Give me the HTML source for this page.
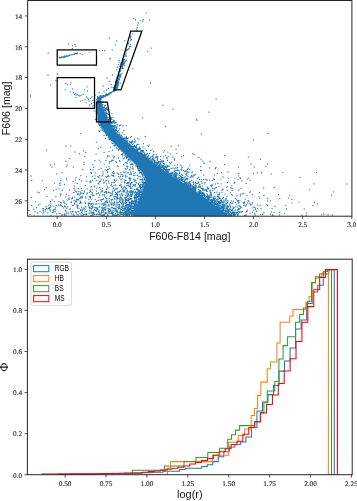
<!DOCTYPE html>
<html><head><meta charset="utf-8"><title>CMD and radial distributions</title>
<style>html,body{margin:0;padding:0;background:#fff;}svg{display:block;}</style></head>
<body><svg width="357" height="501" viewBox="0 0 357 501">
<rect width="357" height="501" fill="#fff"/>
<g id="scatter">
<polygon fill="#1f77b4" points="98.0,99.0 96.9,102.0 97.0,112.0 97.9,120.4 100.8,126.0 104.3,132.3 108.5,137.0 113.5,142.5 120.5,150.0 130.4,159.6 140.5,169.4 143.5,174.0 145.5,179.5 143.0,190.0 139.5,197.4 136.5,206.0 134.0,213.0 133.0,216.2 230.0,216.2 224.5,212.2 217.5,207.3 210.0,201.4 200.5,194.5 192.0,188.6 181.5,181.8 172.0,175.9 167.0,172.4 163.0,169.4 151.8,161.2 149.5,159.6 136.5,150.0 128.5,142.5 121.5,137.0 116.5,132.3 112.6,126.0 108.9,120.4 104.7,112.0 101.4,102.0 100.0,99.0"/>
<path d="M146.3 13.1h0M133.7 18.5h0M135.5 19.7h0M140.9 20.3h0M143.3 19.7h0M149.4 19.9h0M142.7 21.2h0M138.2 23.0h0M137.8 25.2h0M137.3 27.5h0M136.4 29.2h0M136.9 31.0h0M132.8 33.9h0M130.8 36.0h0M130.9 36.5h0M130.6 37.1h0M109.5 38.2h0M130.6 38.1h0M131.3 39.5h0M131.5 39.2h0M116.7 40.9h0M124.8 40.9h0M130.7 40.7h0M128.8 43.0h0M68.4 43.8h0M74.9 44.4h0M128.2 43.9h0M130.4 44.3h0M115.2 44.9h0M72.4 45.8h0M75.7 46.2h0M130.8 46.5h0M129.4 46.8h0M129.4 46.6h0M129.0 48.4h0M151.3 48.1h0M72.4 48.7h0M128.0 49.3h0M128.6 48.9h0M99.4 50.3h0M112.2 49.9h0M126.3 50.2h0M126.4 49.8h0M127.1 50.4h0M127.4 49.6h0M102.4 50.7h0M104.7 50.7h0M147.6 51.3h0M125.9 51.9h0M48.2 53.2h0M75.2 53.2h0M76.8 53.3h0M77.5 52.9h0M90.0 52.6h0M74.2 54.3h0M75.0 53.6h0M75.1 53.9h0M76.1 53.7h0M77.1 53.5h0M80.2 53.6h0M124.3 53.8h0M126.2 53.9h0M69.2 55.4h0M69.4 55.5h0M70.4 54.9h0M71.8 54.9h0M71.9 54.8h0M72.8 54.7h0M82.2 54.6h0M125.2 55.1h0M125.3 55.1h0M64.0 56.4h0M64.6 56.3h0M64.9 56.0h0M66.2 56.1h0M66.8 56.0h0M67.0 55.6h0M67.3 56.0h0M68.6 55.9h0M125.7 56.1h0M126.3 56.2h0M59.3 57.5h0M59.9 57.5h0M60.1 57.4h0M61.9 56.7h0M62.1 57.0h0M62.4 57.3h0M63.3 57.2h0M63.7 56.8h0M64.3 57.3h0M64.4 57.1h0M64.4 57.1h0M65.4 56.7h0M65.9 56.7h0M123.8 56.7h0M123.8 56.9h0M60.7 57.7h0M60.9 57.8h0M61.6 57.6h0M110.0 58.5h0M110.4 58.9h0M123.8 59.5h0M124.4 59.1h0M124.4 59.2h0M118.9 60.4h0M123.6 60.3h0M123.7 59.6h0M124.4 59.9h0M126.3 60.1h0M125.8 60.8h0M119.8 62.0h0M121.7 62.5h0M122.6 62.0h0M123.3 62.3h0M123.5 61.8h0M123.5 61.9h0M123.6 62.2h0M123.8 62.0h0M124.8 61.9h0M125.5 61.6h0M121.3 62.8h0M121.5 63.0h0M121.8 63.2h0M123.1 63.5h0M123.8 62.6h0M120.8 64.0h0M122.3 64.1h0M123.5 63.7h0M123.9 63.9h0M124.3 63.5h0M118.5 64.6h0M122.0 65.3h0M122.9 65.4h0M123.3 64.7h0M124.5 65.3h0M119.4 66.1h0M121.5 66.0h0M122.3 65.8h0M122.5 65.5h0M122.5 66.2h0M122.8 65.7h0M117.6 67.0h0M120.5 66.9h0M120.8 67.2h0M122.2 67.0h0M122.3 67.4h0M120.7 68.0h0M121.0 68.4h0M123.3 68.2h0M119.2 68.8h0M122.5 68.6h0M132.8 68.8h0M116.7 69.7h0M119.6 69.7h0M120.3 69.8h0M120.4 71.2h0M120.6 70.8h0M118.5 71.9h0M122.0 73.1h0M57.1 74.2h0M57.6 74.2h0M118.5 73.9h0M118.8 74.2h0M121.0 74.1h0M48.0 75.0h0M112.5 75.0h0M118.3 75.1h0M118.9 75.2h0M119.4 75.0h0M120.3 74.5h0M120.9 75.3h0M117.8 75.6h0M118.1 75.8h0M119.1 76.4h0M119.8 75.9h0M116.7 77.3h0M117.3 76.7h0M117.8 76.7h0M120.4 76.9h0M120.6 76.8h0M91.2 77.6h0M107.0 78.0h0M117.8 78.4h0M118.7 78.2h0M119.8 77.8h0M117.2 78.7h0M118.5 79.3h0M119.0 79.5h0M119.0 79.0h0M55.9 80.4h0M115.9 80.2h0M117.5 80.5h0M119.1 79.5h0M119.4 79.7h0M109.5 81.3h0M117.5 81.5h0M118.0 80.9h0M118.6 80.8h0M71.1 82.3h0M115.6 82.4h0M115.6 81.7h0M116.3 82.1h0M116.9 82.1h0M117.3 82.5h0M117.3 82.1h0M117.7 82.4h0M117.7 82.5h0M118.1 81.5h0M118.8 82.0h0M66.0 83.4h0M116.7 82.7h0M117.3 82.8h0M117.4 83.5h0M117.4 82.9h0M117.5 83.5h0M117.7 82.5h0M118.5 83.2h0M118.6 83.5h0M120.6 83.1h0M150.5 83.0h0M70.2 84.3h0M111.0 84.5h0M115.4 83.5h0M116.1 84.4h0M116.7 84.4h0M117.1 83.7h0M117.2 83.7h0M117.3 84.5h0M118.1 83.9h0M50.4 84.8h0M67.7 84.8h0M115.1 85.2h0M115.5 85.2h0M117.2 85.4h0M117.4 85.3h0M118.7 85.2h0M103.0 86.0h0M115.1 86.4h0M115.2 86.1h0M115.7 86.4h0M116.0 86.4h0M116.2 85.6h0M116.2 86.5h0M116.9 86.3h0M117.2 85.8h0M117.7 86.1h0M87.0 86.8h0M111.9 87.3h0M114.5 87.1h0M114.8 86.7h0M115.2 87.5h0M115.3 87.3h0M115.4 87.1h0M115.5 86.6h0M115.6 86.7h0M116.3 87.5h0M117.4 87.5h0M108.6 88.5h0M113.4 87.8h0M113.5 88.0h0M114.4 87.9h0M114.7 88.3h0M114.8 87.8h0M114.8 87.7h0M115.0 88.3h0M115.1 88.4h0M115.1 88.0h0M115.4 88.0h0M115.5 87.6h0M115.6 87.8h0M115.7 88.1h0M115.9 87.8h0M116.0 87.6h0M116.1 87.8h0M116.4 88.4h0M117.0 87.9h0M72.7 88.8h0M114.3 89.1h0M115.6 88.6h0M115.7 89.3h0M116.3 88.8h0M116.7 88.8h0M117.0 88.5h0M65.2 89.8h0M84.5 89.8h0M106.5 90.0h0M113.5 90.5h0M113.7 90.1h0M114.1 90.3h0M114.3 90.5h0M114.4 89.9h0M114.7 89.7h0M115.1 90.0h0M115.2 90.2h0M115.3 90.4h0M115.4 90.1h0M116.2 89.7h0M87.4 91.0h0M113.0 91.4h0M113.0 91.2h0M113.2 91.0h0M113.3 91.2h0M113.4 90.7h0M70.2 91.8h0M99.0 92.5h0M104.0 92.0h0M110.6 92.5h0M111.6 92.3h0M111.9 92.0h0M112.2 91.8h0M113.3 91.5h0M113.4 91.6h0M114.2 91.5h0M73.6 92.7h0M109.3 93.4h0M109.5 93.1h0M109.5 93.4h0M109.9 93.1h0M109.9 93.0h0M109.9 93.4h0M110.0 93.4h0M110.5 92.9h0M110.9 93.1h0M110.9 93.0h0M74.4 94.3h0M75.3 93.5h0M83.3 94.4h0M105.9 94.2h0M106.5 93.8h0M107.3 94.3h0M107.9 94.3h0M108.2 94.2h0M108.7 93.7h0M108.8 93.8h0M108.9 94.0h0M109.0 93.9h0M109.1 94.1h0M109.5 94.2h0M76.1 95.2h0M77.3 94.6h0M78.6 95.2h0M81.1 95.2h0M95.1 95.2h0M105.1 95.5h0M105.3 95.1h0M105.5 94.9h0M105.6 95.5h0M105.6 95.5h0M106.0 95.1h0M106.0 94.9h0M106.1 95.2h0M106.4 95.0h0M106.7 94.7h0M106.9 94.9h0M107.5 95.2h0M108.3 94.9h0M30.5 96.0h0M79.8 96.0h0M100.0 95.9h0M101.0 95.5h0M102.1 96.3h0M102.2 96.4h0M102.4 96.0h0M102.7 96.1h0M103.3 95.9h0M103.5 95.6h0M103.7 95.9h0M103.7 95.7h0M104.1 96.3h0M104.2 96.3h0M104.3 96.2h0M104.5 96.2h0M104.7 95.7h0M104.8 95.9h0M105.1 95.7h0M105.3 95.9h0M105.3 96.0h0M105.4 95.5h0M105.5 96.3h0M105.7 95.8h0M105.8 95.8h0M106.0 95.6h0M106.2 95.8h0M107.1 95.6h0M76.1 97.4h0M86.7 96.9h0M92.0 97.0h0M97.5 96.6h0M97.6 97.2h0M98.3 97.1h0M98.4 97.3h0M99.3 97.3h0M100.1 96.9h0M100.4 97.4h0M100.5 97.3h0M100.7 97.1h0M100.8 97.0h0M101.1 97.2h0M101.3 97.3h0M101.8 97.2h0M101.8 96.7h0M101.9 96.6h0M101.9 97.2h0M102.0 96.7h0M102.2 97.1h0M102.3 97.5h0M102.4 97.4h0M102.4 97.1h0M102.4 97.4h0M102.6 97.0h0M102.7 96.8h0M102.7 97.4h0M103.0 96.8h0M103.0 96.6h0M103.1 96.9h0M103.5 96.9h0M103.7 96.7h0M103.7 97.2h0M103.7 96.6h0M104.1 96.5h0M87.9 98.2h0M97.6 97.7h0M98.5 98.5h0M98.5 98.0h0M98.6 97.9h0M98.8 98.3h0M98.9 98.1h0M99.1 97.6h0M99.2 98.3h0M99.3 98.3h0M99.4 98.1h0M99.4 98.5h0M99.8 97.7h0M99.8 97.5h0M99.9 98.2h0M100.0 98.4h0M100.1 98.4h0M100.1 98.5h0M100.2 98.4h0M100.3 97.6h0M100.3 98.3h0M100.3 97.9h0M100.3 97.9h0M100.3 98.4h0M100.4 97.8h0M100.5 97.8h0M100.7 97.8h0M100.7 97.6h0M101.0 97.6h0M101.0 98.0h0M101.2 97.5h0M101.9 97.6h0M102.1 97.5h0M102.1 97.9h0M90.4 98.6h0M97.0 99.3h0M97.5 98.8h0M97.6 98.9h0M98.0 98.5h0M98.2 99.2h0M98.5 98.6h0M98.7 98.6h0M98.8 98.9h0M98.8 99.1h0M98.9 99.4h0M98.9 98.8h0M99.0 99.2h0M99.0 99.4h0M99.0 99.0h0M99.0 98.5h0M99.0 99.4h0M99.1 98.8h0M99.1 99.2h0M99.2 99.2h0M99.2 99.2h0M99.3 98.6h0M99.4 98.7h0M99.4 99.4h0M99.5 98.5h0M99.6 98.6h0M99.7 99.2h0M99.7 99.0h0M99.7 99.1h0M100.1 98.8h0M100.8 98.9h0M100.8 99.2h0M100.8 99.4h0M100.9 99.0h0M101.0 99.3h0M216.1 99.2h0M85.0 99.8h0M88.5 99.5h0M92.9 100.3h0M96.9 100.0h0M97.3 99.9h0M97.3 99.9h0M97.6 99.8h0M97.9 100.3h0M98.6 100.1h0M98.6 100.5h0M99.1 99.6h0M99.1 100.3h0M99.2 100.1h0M99.3 100.4h0M99.4 100.0h0M99.5 99.5h0M99.7 99.7h0M100.1 99.5h0M80.3 101.1h0M82.3 100.6h0M89.0 101.1h0M97.3 101.2h0M97.8 100.8h0M99.9 101.3h0M94.0 102.5h0M101.0 101.6h0M102.5 102.3h0M103.6 102.1h0M86.2 102.8h0M91.5 103.5h0M89.5 105.0h0M102.5 104.5h0M102.6 104.7h0M103.0 104.8h0M105.5 105.2h0M162.9 105.2h0M93.2 106.0h0M104.6 105.6h0M104.3 106.8h0M96.7 107.6h0M103.0 107.6h0M103.5 107.5h0M103.6 107.6h0M104.5 107.6h0M105.8 108.1h0M106.9 107.7h0M104.5 109.4h0M105.1 109.4h0M105.4 109.2h0M105.4 108.5h0M106.7 108.7h0M173.0 109.2h0M104.5 110.3h0M104.9 110.3h0M106.6 109.6h0M107.5 109.6h0M108.0 110.4h0M94.0 110.8h0M96.0 111.0h0M96.6 110.6h0M104.9 110.6h0M105.7 111.0h0M96.7 112.1h0M106.0 112.2h0M106.3 112.2h0M209.0 112.2h0M96.3 112.9h0M96.9 113.1h0M105.9 112.9h0M106.0 112.7h0M106.2 113.3h0M107.0 113.4h0M105.1 113.9h0M108.1 114.1h0M111.8 113.6h0M96.6 114.6h0M96.8 114.9h0M106.6 115.0h0M106.8 115.0h0M108.7 114.6h0M106.7 115.9h0M109.4 116.0h0M96.6 116.8h0M107.2 117.5h0M107.6 117.3h0M109.7 116.5h0M112.9 117.3h0M97.5 117.8h0M107.4 117.9h0M107.5 117.7h0M109.1 117.6h0M110.5 118.2h0M111.1 117.5h0M142.7 117.8h0M95.3 119.3h0M96.1 119.2h0M109.4 119.4h0M109.9 118.9h0M111.5 118.8h0M112.0 119.4h0M196.7 119.3h0M97.0 119.9h0M97.4 119.9h0M108.2 119.8h0M108.8 119.5h0M109.4 120.1h0M109.6 120.2h0M197.1 120.3h0M109.2 120.7h0M109.7 120.9h0M110.1 120.7h0M110.5 121.0h0M113.3 121.3h0M113.6 120.5h0M114.3 121.0h0M114.6 120.6h0M97.9 122.1h0M110.7 122.1h0M111.9 122.2h0M112.1 121.8h0M112.4 121.6h0M114.9 122.3h0M116.2 122.3h0M98.4 123.0h0M110.1 122.8h0M111.6 123.2h0M112.2 123.2h0M112.5 122.7h0M113.3 122.6h0M114.0 123.0h0M115.2 123.1h0M98.9 124.5h0M99.4 124.1h0M117.2 124.4h0M99.3 125.0h0M100.8 125.4h0M100.8 125.2h0M115.0 125.4h0M120.9 125.0h0M99.7 125.7h0M112.5 125.5h0M112.9 125.8h0M113.2 126.5h0M113.5 126.4h0M113.7 125.7h0M114.3 125.7h0M115.3 125.9h0M117.9 126.1h0M119.7 125.5h0M122.8 126.0h0M126.2 125.6h0M165.4 126.4h0M100.8 127.2h0M114.9 127.2h0M115.0 127.5h0M116.2 126.9h0M116.5 127.1h0M101.5 128.1h0M114.4 127.8h0M114.9 127.9h0M116.6 127.8h0M116.8 128.3h0M114.0 128.8h0M115.8 129.3h0M119.7 128.9h0M101.1 130.0h0M102.5 130.2h0M115.1 130.4h0M115.1 130.4h0M115.3 129.6h0M115.4 130.5h0M116.1 129.9h0M116.3 130.4h0M116.4 129.9h0M123.9 130.5h0M98.9 130.6h0M99.5 131.5h0M115.1 130.7h0M117.6 131.5h0M118.2 130.5h0M103.2 131.6h0M117.0 132.0h0M118.1 132.0h0M119.4 133.0h0M122.1 132.8h0M267.8 133.4h0M80.6 133.7h0M124.1 134.3h0M201.3 133.9h0M105.9 134.6h0M106.5 135.1h0M106.6 135.4h0M119.1 135.0h0M119.8 134.7h0M120.9 135.1h0M121.6 135.3h0M104.0 135.7h0M121.5 135.7h0M122.1 136.4h0M145.2 136.5h0M122.0 137.1h0M126.1 137.0h0M126.6 137.0h0M130.4 137.2h0M131.6 136.6h0M108.1 137.9h0M108.8 137.9h0M123.2 138.2h0M123.5 138.2h0M124.6 138.1h0M124.8 138.4h0M125.3 138.3h0M125.6 138.0h0M126.1 138.1h0M126.6 138.1h0M127.9 138.3h0M128.2 137.8h0M137.7 138.1h0M105.5 138.5h0M109.5 138.9h0M109.7 138.7h0M110.5 139.4h0M124.0 138.7h0M127.0 138.7h0M134.7 139.2h0M139.0 139.2h0M109.1 139.8h0M111.1 140.0h0M125.3 139.8h0M125.9 140.0h0M126.2 139.8h0M126.4 140.1h0M127.9 140.2h0M253.4 139.9h0M111.7 140.6h0M112.3 141.1h0M132.2 141.2h0M132.6 140.8h0M134.1 141.4h0M135.7 141.1h0M96.4 142.2h0M127.2 141.5h0M129.7 141.6h0M129.9 142.4h0M131.0 141.9h0M131.1 142.4h0M132.2 142.0h0M134.9 142.5h0M111.8 142.8h0M112.6 143.2h0M131.4 143.2h0M131.4 143.5h0M133.5 143.1h0M113.2 143.7h0M114.9 144.2h0M137.6 144.4h0M139.0 144.3h0M143.5 143.7h0M113.9 145.3h0M132.7 144.6h0M134.6 145.4h0M136.4 145.2h0M136.5 145.2h0M147.9 145.3h0M149.5 145.1h0M178.5 145.3h0M66.0 146.0h0M70.7 146.1h0M114.1 145.7h0M114.5 145.9h0M114.8 145.9h0M115.5 145.6h0M136.4 146.0h0M171.1 146.2h0M100.7 147.0h0M110.5 147.2h0M116.7 147.4h0M133.0 147.0h0M133.1 146.5h0M133.6 146.9h0M134.0 146.7h0M134.7 146.7h0M135.4 147.4h0M135.7 146.7h0M136.0 146.6h0M136.1 147.3h0M136.7 147.4h0M139.5 147.2h0M143.0 147.0h0M148.6 146.6h0M117.1 148.5h0M135.8 148.1h0M138.7 148.4h0M139.6 147.9h0M98.4 148.6h0M119.2 149.0h0M119.8 149.0h0M136.3 149.4h0M136.6 149.1h0M137.0 148.9h0M137.1 148.6h0M137.6 149.2h0M137.9 149.3h0M138.5 148.9h0M138.5 149.0h0M139.8 148.9h0M140.1 149.3h0M140.3 148.8h0M145.1 148.8h0M176.1 149.2h0M46.5 150.1h0M112.5 150.2h0M118.3 150.0h0M118.7 149.5h0M118.7 149.9h0M136.8 149.9h0M137.0 150.4h0M137.1 150.0h0M137.6 150.4h0M137.8 149.8h0M138.2 149.7h0M138.8 149.8h0M140.8 150.3h0M141.4 150.4h0M152.0 149.9h0M83.6 150.8h0M121.9 151.2h0M137.4 150.5h0M137.5 150.6h0M142.2 150.5h0M142.7 151.4h0M142.8 150.9h0M143.6 150.6h0M146.7 150.5h0M150.6 150.6h0M164.4 150.6h0M75.0 152.0h0M109.0 151.6h0M140.3 152.0h0M140.7 151.7h0M140.7 151.8h0M140.7 152.4h0M140.8 152.2h0M141.4 151.5h0M142.9 152.0h0M143.3 151.9h0M153.7 151.7h0M163.5 152.1h0M167.9 152.2h0M85.7 152.5h0M104.1 152.5h0M123.1 153.1h0M140.1 153.0h0M140.6 152.6h0M140.7 152.7h0M140.7 152.6h0M141.2 153.3h0M141.5 153.1h0M144.2 152.8h0M147.2 153.3h0M149.7 153.4h0M79.5 153.7h0M96.1 154.2h0M122.6 153.8h0M141.8 153.6h0M142.4 153.8h0M144.8 153.6h0M146.8 154.2h0M147.0 153.9h0M147.3 153.6h0M170.6 153.8h0M176.8 153.6h0M192.9 153.6h0M194.0 154.3h0M121.4 154.5h0M122.9 154.6h0M124.2 155.1h0M143.1 154.9h0M144.1 155.3h0M144.2 154.5h0M144.3 154.7h0M144.4 154.6h0M144.5 155.2h0M144.5 154.7h0M145.7 154.9h0M145.7 154.9h0M146.2 155.2h0M146.3 154.7h0M148.8 155.4h0M153.6 154.6h0M156.2 154.5h0M107.5 156.0h0M108.0 155.8h0M109.2 156.1h0M113.1 155.8h0M122.5 155.8h0M125.6 156.0h0M126.2 156.5h0M144.1 155.8h0M145.2 156.1h0M148.3 156.3h0M151.9 156.3h0M152.9 155.6h0M156.1 156.4h0M165.5 155.6h0M183.5 155.7h0M224.6 155.7h0M84.9 156.6h0M113.6 157.5h0M114.5 156.9h0M127.0 157.3h0M127.5 157.5h0M145.1 157.0h0M145.1 156.7h0M145.4 157.0h0M146.0 156.9h0M147.3 156.5h0M147.7 157.1h0M147.7 157.3h0M150.4 157.1h0M152.4 156.8h0M153.6 157.2h0M157.5 157.0h0M157.8 156.7h0M160.6 156.6h0M163.4 156.9h0M168.3 156.6h0M172.7 157.2h0M181.5 156.7h0M198.8 157.4h0M248.4 157.2h0M107.1 157.8h0M118.4 158.0h0M124.4 158.1h0M126.3 157.6h0M126.3 158.0h0M147.8 157.7h0M149.1 158.3h0M150.2 158.3h0M150.7 157.6h0M155.0 158.2h0M156.0 157.6h0M157.2 157.8h0M166.6 158.0h0M167.4 158.1h0M69.5 158.6h0M123.2 158.8h0M128.4 159.5h0M128.6 159.0h0M128.7 158.9h0M148.1 158.7h0M148.4 159.0h0M150.1 159.0h0M150.4 159.2h0M152.1 159.3h0M152.1 159.4h0M152.3 158.7h0M152.8 158.5h0M153.6 159.5h0M157.5 158.5h0M157.5 159.1h0M160.7 159.4h0M174.2 158.8h0M174.5 159.2h0M201.1 159.2h0M260.5 159.2h0M99.2 160.2h0M105.9 160.5h0M112.0 160.2h0M113.0 160.2h0M129.4 159.5h0M129.9 159.8h0M151.5 160.5h0M152.2 159.8h0M153.5 159.8h0M154.6 160.4h0M157.6 160.1h0M163.1 160.5h0M167.6 160.4h0M174.5 160.0h0M65.9 161.2h0M94.9 160.7h0M94.9 160.8h0M111.3 161.2h0M112.3 160.6h0M119.6 160.7h0M127.4 161.1h0M128.7 160.6h0M130.8 161.2h0M153.5 160.9h0M153.9 161.0h0M154.8 161.2h0M155.1 160.7h0M158.7 161.3h0M160.7 161.3h0M161.1 160.8h0M162.8 160.6h0M163.6 161.3h0M202.9 161.2h0M83.9 162.5h0M100.7 161.8h0M109.9 161.5h0M115.7 161.8h0M116.4 162.4h0M120.0 161.7h0M152.0 161.8h0M152.1 161.5h0M152.5 161.9h0M154.4 161.8h0M156.1 162.2h0M156.7 162.1h0M158.4 162.5h0M159.5 162.0h0M160.5 162.1h0M161.6 161.8h0M162.7 162.0h0M169.9 162.4h0M171.6 162.2h0M210.1 161.5h0M109.6 162.9h0M125.4 162.6h0M126.5 162.8h0M129.9 162.8h0M154.6 162.6h0M155.3 163.2h0M155.5 163.1h0M155.9 163.0h0M156.5 163.4h0M157.5 163.0h0M157.8 163.1h0M158.1 163.0h0M160.5 163.3h0M163.4 163.5h0M203.9 163.2h0M204.5 163.4h0M54.7 164.2h0M84.2 164.4h0M92.8 164.3h0M104.2 164.2h0M127.1 163.5h0M131.5 164.1h0M132.5 163.9h0M133.2 164.1h0M156.5 163.9h0M157.1 163.9h0M157.7 163.8h0M159.1 164.2h0M159.3 164.3h0M159.3 164.4h0M160.1 163.6h0M164.5 164.0h0M170.4 163.6h0M251.1 164.0h0M267.5 164.1h0M50.4 165.0h0M67.2 165.0h0M123.4 164.7h0M124.2 165.1h0M130.7 164.7h0M132.3 164.6h0M157.2 164.8h0M159.2 164.6h0M159.7 164.6h0M159.9 165.4h0M160.1 164.7h0M161.3 165.0h0M163.2 165.4h0M163.5 165.3h0M163.6 165.4h0M174.8 165.2h0M177.6 164.8h0M189.6 165.1h0M224.6 164.7h0M117.3 166.0h0M127.8 166.1h0M135.8 166.0h0M137.9 166.4h0M158.6 165.7h0M158.6 165.6h0M159.0 165.6h0M159.3 166.2h0M159.4 166.0h0M160.1 166.3h0M161.9 166.3h0M162.5 165.9h0M162.5 166.4h0M162.8 165.9h0M163.9 166.0h0M165.5 166.2h0M167.0 165.7h0M168.0 165.8h0M168.1 166.2h0M169.1 166.0h0M180.8 165.5h0M52.0 167.0h0M66.2 166.8h0M73.2 167.0h0M93.7 167.3h0M93.8 167.0h0M106.5 167.1h0M109.1 166.7h0M118.5 166.6h0M126.7 166.5h0M127.2 166.7h0M130.3 167.2h0M132.8 166.9h0M136.3 166.7h0M137.4 167.0h0M137.7 167.4h0M159.5 166.8h0M159.7 166.8h0M160.7 166.8h0M161.3 167.4h0M162.0 167.3h0M162.1 167.0h0M162.2 166.5h0M163.0 167.2h0M163.1 167.4h0M163.3 167.4h0M163.8 167.3h0M164.2 166.8h0M165.1 167.1h0M165.9 167.5h0M166.9 166.7h0M166.9 167.2h0M167.6 166.8h0M167.6 166.8h0M177.7 167.4h0M181.7 167.1h0M182.2 167.2h0M200.7 166.7h0M216.0 167.4h0M238.5 167.1h0M254.2 166.9h0M266.1 166.5h0M101.3 168.4h0M125.2 168.5h0M127.4 168.2h0M138.7 168.4h0M139.3 168.4h0M160.4 167.6h0M161.6 167.6h0M163.0 168.2h0M163.2 167.7h0M163.4 167.7h0M164.3 168.3h0M173.1 168.2h0M175.4 167.8h0M176.9 168.2h0M188.1 168.2h0M209.7 167.9h0M215.3 168.5h0M90.5 169.4h0M107.4 169.4h0M108.6 169.2h0M109.8 168.8h0M129.9 169.4h0M132.2 168.5h0M133.3 168.9h0M137.9 168.7h0M140.5 169.2h0M163.3 169.2h0M164.1 169.3h0M164.5 168.9h0M165.8 169.4h0M166.2 169.0h0M168.6 169.3h0M171.2 168.5h0M174.7 168.8h0M181.4 169.2h0M181.7 169.0h0M188.0 169.0h0M215.6 168.8h0M82.8 169.5h0M93.1 170.0h0M98.9 169.6h0M105.3 169.9h0M106.7 170.3h0M126.1 169.5h0M130.0 170.2h0M138.1 169.5h0M139.0 170.0h0M140.1 170.2h0M140.3 169.8h0M140.6 169.6h0M140.9 169.5h0M165.2 169.8h0M165.4 169.8h0M165.8 169.9h0M166.3 170.2h0M167.2 169.7h0M168.3 169.7h0M168.6 170.2h0M169.5 169.9h0M177.1 170.4h0M177.8 170.1h0M178.8 170.3h0M181.4 170.1h0M183.3 170.4h0M186.2 170.2h0M187.7 169.7h0M189.9 169.7h0M200.6 170.3h0M201.4 170.4h0M107.6 171.3h0M113.4 171.4h0M138.6 170.7h0M139.2 171.0h0M141.0 171.5h0M165.4 170.6h0M166.4 171.4h0M166.6 170.8h0M167.0 171.4h0M167.2 170.5h0M168.1 171.3h0M174.3 171.4h0M175.2 170.6h0M175.4 170.8h0M175.8 170.7h0M177.7 170.5h0M179.2 170.9h0M184.4 171.2h0M185.7 171.4h0M185.8 171.4h0M91.4 172.4h0M103.0 172.0h0M107.4 172.4h0M123.6 172.2h0M125.1 172.2h0M127.8 172.4h0M130.7 172.2h0M130.9 172.2h0M133.1 171.5h0M140.3 172.5h0M141.2 172.2h0M167.1 171.9h0M167.2 172.3h0M167.4 172.3h0M168.1 172.4h0M168.3 172.0h0M168.7 172.1h0M176.1 172.3h0M187.3 172.0h0M188.7 172.2h0M192.0 172.4h0M192.2 172.0h0M228.0 172.0h0M261.5 172.5h0M282.8 172.3h0M316.4 172.4h0M61.9 172.7h0M90.8 172.9h0M91.3 172.7h0M95.1 172.7h0M112.5 172.7h0M114.4 172.9h0M117.2 173.0h0M120.8 172.7h0M128.9 173.1h0M135.4 172.6h0M139.5 173.0h0M141.5 172.8h0M141.7 172.7h0M168.0 172.8h0M168.2 172.7h0M168.5 172.6h0M171.0 172.6h0M171.6 173.2h0M172.5 172.6h0M172.5 172.6h0M173.8 173.2h0M175.4 172.6h0M175.9 173.3h0M176.0 173.3h0M176.3 173.5h0M177.3 173.4h0M179.4 173.4h0M179.7 172.7h0M187.0 172.9h0M217.3 173.3h0M221.6 172.7h0M238.6 173.4h0M257.2 172.9h0M56.8 173.9h0M91.4 173.5h0M103.0 174.0h0M113.5 173.6h0M118.2 174.2h0M118.9 174.0h0M122.1 174.4h0M126.0 174.1h0M131.1 173.6h0M134.1 173.7h0M141.5 173.9h0M142.5 173.8h0M142.9 174.0h0M142.9 174.4h0M143.0 173.8h0M143.2 174.2h0M169.0 173.9h0M169.4 173.9h0M169.4 173.6h0M170.2 173.6h0M170.7 174.0h0M170.8 173.9h0M171.4 173.6h0M171.6 173.7h0M172.3 173.8h0M174.4 173.5h0M174.9 174.2h0M175.5 174.2h0M176.6 174.0h0M185.9 174.2h0M186.3 174.2h0M186.4 174.2h0M195.3 174.4h0M253.4 173.6h0M271.2 173.9h0M108.2 175.4h0M111.7 175.0h0M113.5 175.5h0M120.9 174.8h0M130.0 174.7h0M131.3 174.5h0M133.6 175.4h0M135.0 175.3h0M137.2 175.4h0M137.6 175.1h0M142.8 175.3h0M170.3 174.8h0M171.0 175.0h0M171.1 175.5h0M171.7 175.0h0M173.1 175.3h0M173.4 174.8h0M174.2 175.2h0M175.0 175.4h0M176.1 174.6h0M176.2 175.3h0M176.4 175.3h0M177.7 175.1h0M179.1 174.8h0M181.9 174.7h0M182.7 175.4h0M191.6 175.3h0M191.9 175.1h0M193.6 175.1h0M194.6 175.3h0M203.8 175.0h0M214.6 174.8h0M31.0 176.0h0M80.9 175.6h0M92.6 176.3h0M95.0 175.8h0M98.0 176.3h0M99.7 175.5h0M101.9 176.1h0M102.5 175.6h0M105.9 176.3h0M107.7 176.4h0M109.0 176.4h0M112.8 175.7h0M113.8 176.2h0M123.2 176.0h0M125.2 175.7h0M127.0 176.3h0M142.6 176.0h0M142.8 175.6h0M143.1 175.7h0M171.6 175.7h0M173.9 176.4h0M174.0 176.3h0M174.2 175.9h0M174.6 176.4h0M175.6 176.4h0M179.8 175.6h0M180.8 175.9h0M187.0 175.5h0M188.0 176.4h0M191.2 176.4h0M192.7 176.3h0M238.5 175.8h0M86.6 176.8h0M97.9 176.9h0M98.6 177.0h0M106.6 177.4h0M118.5 176.6h0M120.4 176.6h0M122.7 176.6h0M125.6 177.1h0M125.7 177.2h0M129.7 177.3h0M138.9 176.7h0M140.3 176.6h0M143.7 177.5h0M173.7 176.7h0M174.2 176.9h0M174.3 176.8h0M175.4 177.3h0M176.6 176.8h0M176.8 177.1h0M179.0 177.2h0M180.6 176.9h0M181.9 177.0h0M182.2 177.3h0M184.3 177.2h0M185.6 176.9h0M191.1 177.1h0M193.1 177.1h0M198.7 177.2h0M223.1 177.0h0M240.0 177.5h0M66.7 178.1h0M75.9 177.8h0M94.8 178.4h0M100.1 178.1h0M119.7 177.9h0M129.2 178.3h0M130.4 178.4h0M144.4 178.1h0M176.3 178.0h0M176.3 178.1h0M176.4 177.8h0M176.6 177.8h0M176.6 178.3h0M177.1 178.5h0M177.4 178.4h0M177.7 178.5h0M177.7 178.3h0M179.4 177.8h0M180.8 178.4h0M181.4 177.9h0M181.5 177.5h0M182.8 177.6h0M186.4 178.5h0M190.4 177.7h0M228.0 178.1h0M234.9 178.2h0M240.4 178.5h0M248.9 177.9h0M300.0 177.5h0M114.2 179.3h0M122.1 178.7h0M129.1 178.6h0M130.0 179.2h0M133.4 179.2h0M137.8 178.5h0M141.6 179.4h0M142.5 179.0h0M144.7 179.0h0M176.1 178.7h0M176.7 179.0h0M178.6 178.8h0M178.6 179.0h0M179.4 179.4h0M181.3 179.0h0M182.0 179.3h0M182.7 179.4h0M182.9 178.8h0M183.5 178.8h0M185.2 179.0h0M186.3 179.3h0M186.8 178.6h0M187.9 178.6h0M197.4 178.8h0M197.6 178.6h0M199.6 179.3h0M205.3 179.4h0M206.9 179.3h0M213.5 178.9h0M220.9 179.1h0M247.2 179.2h0M31.7 180.4h0M60.7 180.3h0M66.8 179.8h0M75.4 180.1h0M79.5 179.5h0M92.5 180.2h0M101.1 179.8h0M103.6 179.9h0M106.7 180.3h0M114.2 179.8h0M114.6 180.3h0M116.6 180.0h0M121.0 179.7h0M124.1 179.9h0M125.5 180.4h0M125.9 180.3h0M130.0 179.9h0M134.8 180.0h0M135.0 180.2h0M135.8 180.3h0M140.1 179.7h0M140.7 179.7h0M142.2 180.1h0M144.2 179.6h0M144.9 180.2h0M178.9 179.7h0M179.0 180.4h0M179.7 179.8h0M179.9 180.0h0M180.2 180.0h0M181.2 180.3h0M181.2 179.7h0M181.5 180.1h0M181.7 179.7h0M181.7 180.0h0M184.8 180.0h0M185.7 179.6h0M187.7 179.7h0M191.6 180.3h0M201.8 179.7h0M203.5 179.6h0M207.0 180.5h0M209.7 180.1h0M214.4 179.5h0M237.9 179.6h0M42.3 180.8h0M73.1 181.3h0M81.5 180.9h0M86.7 181.4h0M90.1 181.0h0M96.8 180.5h0M100.2 181.2h0M105.9 180.9h0M108.6 181.2h0M115.5 181.1h0M130.1 180.7h0M134.4 180.9h0M142.6 180.8h0M143.2 181.0h0M181.9 180.7h0M182.2 181.1h0M182.4 180.8h0M182.6 181.1h0M182.9 180.9h0M183.8 181.4h0M184.9 180.9h0M201.3 181.3h0M212.6 180.6h0M241.9 181.0h0M250.0 180.6h0M90.2 182.5h0M91.0 182.0h0M99.4 181.9h0M100.3 181.7h0M104.5 182.2h0M113.2 182.2h0M121.6 182.1h0M124.7 182.0h0M127.6 182.4h0M129.1 182.1h0M131.4 182.4h0M132.2 182.4h0M135.8 182.2h0M142.1 182.4h0M142.9 182.3h0M144.3 182.3h0M144.5 182.5h0M184.4 182.1h0M184.9 181.8h0M186.2 182.3h0M186.6 182.4h0M186.9 182.1h0M189.3 181.5h0M189.4 182.4h0M190.1 181.7h0M193.1 182.0h0M193.4 181.9h0M195.4 182.2h0M198.1 181.8h0M205.0 182.4h0M234.6 182.2h0M54.4 183.1h0M60.2 183.0h0M98.1 183.5h0M103.3 182.9h0M109.0 183.0h0M111.8 182.9h0M114.5 182.6h0M124.5 182.8h0M128.2 182.6h0M129.1 182.8h0M130.9 183.4h0M136.4 182.7h0M138.2 183.4h0M140.0 182.7h0M143.6 183.5h0M143.9 182.7h0M184.1 183.3h0M184.2 182.7h0M184.6 183.4h0M185.0 183.4h0M185.4 183.4h0M185.5 183.5h0M185.7 183.0h0M185.9 182.9h0M185.9 182.9h0M186.2 183.4h0M186.8 182.8h0M188.3 182.6h0M189.6 183.4h0M193.5 183.0h0M195.4 183.1h0M196.5 183.3h0M197.9 183.4h0M198.8 182.6h0M201.9 183.2h0M202.2 182.9h0M218.0 183.4h0M227.5 182.5h0M234.1 183.2h0M246.1 183.4h0M59.7 183.8h0M64.5 184.5h0M77.2 183.5h0M98.9 183.9h0M106.4 183.9h0M126.8 183.5h0M127.9 183.7h0M130.3 184.4h0M130.5 183.6h0M131.0 184.1h0M138.4 184.1h0M140.7 184.3h0M142.4 184.2h0M143.3 184.4h0M144.6 183.9h0M144.9 183.9h0M184.4 183.8h0M185.5 184.0h0M186.0 184.4h0M187.2 183.6h0M187.3 183.9h0M187.4 183.9h0M188.0 183.7h0M188.1 184.2h0M188.3 184.4h0M188.3 184.3h0M188.3 184.0h0M188.6 184.2h0M190.4 183.8h0M191.0 184.5h0M193.6 184.3h0M199.9 184.4h0M204.8 183.9h0M215.3 184.0h0M221.2 183.8h0M313.7 183.9h0M346.9 184.0h0M85.2 185.4h0M111.5 184.5h0M114.0 185.4h0M115.5 185.2h0M115.7 185.2h0M119.6 185.4h0M120.6 184.8h0M121.5 184.8h0M128.3 185.2h0M130.3 185.3h0M133.6 184.6h0M134.3 184.9h0M135.1 185.1h0M135.5 184.5h0M139.0 184.6h0M139.3 184.9h0M139.5 185.1h0M140.4 185.3h0M140.5 185.1h0M142.1 184.7h0M142.8 184.5h0M143.4 184.7h0M186.8 184.6h0M188.4 185.0h0M188.9 184.8h0M188.9 185.1h0M189.1 185.3h0M189.6 185.3h0M189.7 185.3h0M190.0 184.7h0M190.4 184.6h0M195.2 185.5h0M195.8 184.9h0M199.1 184.8h0M211.5 185.1h0M211.9 184.9h0M212.2 185.0h0M60.1 185.5h0M74.3 186.0h0M91.3 186.4h0M94.9 186.1h0M107.4 186.1h0M111.0 185.6h0M112.2 186.5h0M124.2 186.1h0M126.8 185.6h0M126.9 185.8h0M128.3 185.6h0M129.3 186.5h0M133.6 185.6h0M135.3 186.3h0M139.7 186.3h0M139.8 186.1h0M142.3 185.5h0M142.6 186.4h0M143.8 185.6h0M187.1 185.7h0M187.5 185.9h0M188.9 185.8h0M189.2 185.8h0M189.5 186.2h0M190.2 185.8h0M190.2 186.0h0M191.1 186.0h0M191.2 186.2h0M192.1 185.7h0M193.1 186.4h0M193.8 186.1h0M196.5 186.1h0M198.9 186.1h0M200.2 186.1h0M202.2 186.0h0M210.7 185.7h0M211.8 185.6h0M231.8 185.8h0M90.9 187.0h0M94.2 186.8h0M99.7 187.4h0M121.2 186.6h0M121.5 186.8h0M121.6 187.5h0M124.1 187.2h0M130.3 186.6h0M130.9 187.3h0M132.6 186.7h0M139.6 187.1h0M140.1 187.2h0M140.5 186.7h0M141.9 187.5h0M142.4 187.1h0M142.6 187.0h0M142.6 187.3h0M142.8 186.6h0M143.3 187.2h0M144.0 186.9h0M189.1 186.8h0M190.2 186.5h0M190.6 187.2h0M192.7 186.8h0M192.8 186.7h0M193.9 187.4h0M194.1 187.2h0M194.2 187.1h0M194.5 187.5h0M195.2 186.6h0M196.8 187.2h0M198.5 187.2h0M198.9 187.0h0M199.8 186.8h0M200.6 187.4h0M207.1 186.8h0M211.8 186.8h0M219.0 186.6h0M227.4 186.7h0M274.3 187.4h0M46.3 187.7h0M74.2 188.4h0M81.3 188.4h0M96.7 188.1h0M107.6 187.8h0M109.2 187.8h0M113.5 188.5h0M113.9 187.8h0M117.6 188.2h0M123.1 188.2h0M125.4 187.6h0M126.6 188.2h0M130.8 188.5h0M132.0 188.3h0M138.0 187.8h0M140.3 188.4h0M140.6 188.0h0M190.1 187.6h0M191.6 188.0h0M192.2 188.1h0M193.1 187.7h0M193.7 188.4h0M194.1 188.2h0M194.6 187.9h0M194.8 187.9h0M195.3 187.6h0M195.9 188.4h0M196.0 188.4h0M201.1 187.9h0M201.5 188.4h0M202.7 188.5h0M207.9 187.9h0M212.9 188.5h0M215.2 188.0h0M216.4 187.5h0M226.2 187.6h0M231.0 188.0h0M232.2 188.3h0M241.0 188.4h0M263.6 187.9h0M58.9 188.8h0M78.3 188.7h0M87.3 189.0h0M100.4 188.9h0M102.5 188.6h0M106.4 189.5h0M106.6 188.9h0M115.2 189.1h0M116.4 188.9h0M116.5 188.7h0M116.8 189.0h0M122.3 189.3h0M125.3 188.9h0M126.2 189.2h0M134.4 189.3h0M136.3 189.2h0M136.9 188.5h0M140.1 189.3h0M140.5 188.9h0M141.7 189.2h0M142.4 189.1h0M142.7 189.1h0M142.7 189.2h0M142.9 188.9h0M192.4 188.5h0M193.0 189.2h0M193.5 189.2h0M194.4 189.1h0M194.7 188.5h0M194.7 189.2h0M195.2 188.7h0M198.4 189.3h0M203.7 189.0h0M207.3 188.7h0M208.0 189.0h0M209.0 188.7h0M214.3 189.1h0M223.1 189.2h0M44.5 189.7h0M56.1 189.6h0M62.4 190.2h0M69.5 190.0h0M74.9 190.2h0M82.0 190.3h0M90.2 190.0h0M92.2 189.7h0M115.0 189.5h0M120.3 190.3h0M123.5 190.0h0M127.2 190.4h0M135.9 189.8h0M137.2 189.5h0M137.2 190.0h0M137.2 190.1h0M138.3 190.0h0M138.4 189.8h0M194.3 189.7h0M194.6 190.0h0M195.6 189.5h0M195.7 189.9h0M199.7 190.1h0M200.3 190.4h0M202.6 189.5h0M202.7 190.0h0M204.5 190.1h0M205.7 190.1h0M205.8 189.5h0M206.3 189.8h0M212.9 190.5h0M222.4 189.8h0M227.2 190.3h0M232.1 190.5h0M238.5 190.2h0M238.9 190.1h0M309.7 189.8h0M53.5 190.6h0M84.8 190.9h0M90.5 191.4h0M90.7 191.4h0M96.5 191.1h0M101.2 191.2h0M102.1 190.7h0M102.3 190.9h0M102.7 191.0h0M105.3 191.3h0M112.9 191.0h0M114.5 190.7h0M118.1 191.5h0M119.5 191.4h0M120.1 191.4h0M123.0 191.1h0M124.2 190.7h0M124.6 191.5h0M130.1 190.8h0M130.9 191.4h0M131.4 190.9h0M131.7 190.6h0M133.0 191.3h0M133.8 191.0h0M138.4 190.7h0M139.1 190.8h0M139.3 191.5h0M140.0 190.6h0M140.7 191.0h0M141.3 190.9h0M142.4 190.9h0M195.7 190.8h0M198.1 191.3h0M199.7 191.3h0M200.6 191.3h0M203.0 190.6h0M206.3 190.6h0M206.4 190.6h0M207.2 191.2h0M209.8 190.8h0M210.7 190.7h0M221.9 190.6h0M250.2 191.3h0M37.8 192.1h0M75.9 191.5h0M76.6 191.9h0M78.8 191.5h0M80.6 192.1h0M84.1 192.1h0M89.7 192.4h0M92.0 192.3h0M106.3 191.7h0M108.0 192.1h0M108.4 192.1h0M110.2 192.4h0M112.5 192.0h0M115.5 192.5h0M119.1 192.2h0M123.4 191.9h0M123.7 191.8h0M126.0 192.3h0M127.4 191.7h0M127.9 191.7h0M129.4 192.0h0M130.2 191.9h0M132.3 192.1h0M132.4 191.6h0M132.6 192.0h0M135.5 191.7h0M135.5 191.8h0M137.1 192.5h0M137.7 192.2h0M138.5 191.7h0M139.5 192.2h0M140.0 191.9h0M140.5 192.0h0M141.8 191.9h0M198.5 192.5h0M199.3 191.9h0M199.6 192.3h0M199.7 192.0h0M200.1 192.4h0M200.2 191.8h0M201.9 192.1h0M206.4 191.5h0M210.2 192.0h0M214.7 192.5h0M216.9 192.1h0M221.9 192.3h0M249.8 192.4h0M333.7 191.8h0M39.2 192.7h0M73.8 192.5h0M78.1 193.5h0M81.2 193.2h0M87.6 192.9h0M92.5 193.1h0M98.5 193.0h0M100.9 192.8h0M104.3 192.7h0M104.9 192.7h0M106.3 192.7h0M106.6 193.2h0M108.9 192.6h0M110.7 193.1h0M116.5 193.5h0M117.3 192.7h0M127.9 193.2h0M130.4 192.8h0M131.1 192.8h0M131.3 192.6h0M132.4 193.3h0M134.0 192.8h0M134.0 192.6h0M134.8 193.0h0M136.2 192.6h0M136.3 193.2h0M136.6 192.6h0M139.1 192.6h0M139.5 192.7h0M139.9 192.8h0M141.4 192.7h0M198.2 192.9h0M198.3 192.6h0M198.9 192.8h0M199.1 193.1h0M200.0 193.4h0M200.4 192.6h0M201.6 192.9h0M202.4 192.9h0M202.4 192.6h0M202.8 193.4h0M202.9 192.6h0M203.9 193.2h0M210.8 193.0h0M211.0 192.7h0M219.7 193.0h0M230.6 192.8h0M243.7 193.4h0M259.3 192.5h0M60.2 193.9h0M61.1 193.9h0M66.3 194.2h0M77.5 194.5h0M80.2 194.0h0M83.0 193.5h0M83.6 193.6h0M86.8 194.0h0M91.9 194.3h0M96.4 193.9h0M96.9 193.7h0M112.0 194.0h0M112.3 194.0h0M116.2 194.4h0M117.4 194.1h0M121.4 193.7h0M121.6 194.0h0M122.8 194.1h0M126.1 193.6h0M128.0 193.6h0M132.3 194.0h0M132.9 194.1h0M135.5 194.4h0M136.6 193.7h0M137.0 194.5h0M137.1 193.6h0M138.1 194.5h0M138.2 193.7h0M138.5 194.0h0M139.1 194.2h0M139.1 194.1h0M139.4 194.3h0M139.5 194.4h0M139.8 193.5h0M140.3 194.4h0M140.7 194.5h0M199.1 193.7h0M199.1 194.0h0M199.4 193.7h0M199.5 193.6h0M199.6 193.6h0M199.6 193.5h0M200.8 193.6h0M201.5 194.5h0M201.5 193.5h0M202.7 193.7h0M203.7 194.2h0M204.2 194.2h0M204.4 194.2h0M207.0 194.0h0M211.3 193.9h0M211.5 193.8h0M217.8 194.2h0M219.4 194.2h0M225.0 194.1h0M240.4 194.2h0M242.2 194.0h0M278.5 194.4h0M68.9 195.3h0M79.1 195.0h0M92.8 195.4h0M93.5 195.4h0M93.8 195.3h0M99.7 195.2h0M102.5 195.1h0M102.8 194.6h0M104.3 194.6h0M111.2 195.3h0M112.3 194.9h0M115.1 194.6h0M117.6 195.5h0M117.9 195.0h0M119.7 194.7h0M125.3 195.4h0M127.2 194.9h0M128.6 194.5h0M129.0 195.5h0M130.3 195.1h0M130.8 194.5h0M131.5 194.9h0M132.0 194.9h0M134.8 195.4h0M135.0 195.2h0M135.5 194.9h0M137.5 194.5h0M138.1 195.0h0M139.6 195.4h0M201.8 194.9h0M202.4 195.1h0M203.2 195.0h0M203.3 195.2h0M203.9 195.4h0M205.1 195.2h0M207.5 195.0h0M210.3 194.9h0M210.9 195.2h0M211.1 194.7h0M211.7 195.1h0M218.1 194.6h0M218.8 194.9h0M231.8 194.7h0M232.3 195.2h0M252.6 194.7h0M289.6 195.3h0M331.4 195.2h0M47.1 196.4h0M60.5 195.7h0M81.1 196.3h0M82.4 196.1h0M90.7 196.4h0M104.3 196.0h0M106.0 196.1h0M110.3 195.6h0M115.4 196.4h0M120.8 195.9h0M122.3 195.6h0M126.9 195.8h0M127.2 195.8h0M127.9 196.4h0M129.8 195.7h0M131.1 196.5h0M131.7 195.6h0M136.4 195.5h0M136.5 195.7h0M138.2 196.4h0M138.8 195.6h0M139.0 196.1h0M202.1 195.7h0M202.4 195.8h0M202.5 195.5h0M202.8 196.0h0M203.3 195.7h0M204.5 196.3h0M204.9 196.1h0M207.1 195.7h0M207.8 195.7h0M208.0 196.0h0M208.0 196.0h0M208.4 195.8h0M208.8 196.3h0M209.6 195.9h0M217.2 196.1h0M227.0 196.3h0M237.1 195.7h0M240.5 195.9h0M246.9 195.7h0M264.0 195.5h0M55.9 196.7h0M65.9 196.9h0M72.4 197.4h0M74.4 196.9h0M85.8 197.0h0M89.2 196.9h0M89.6 196.6h0M90.4 197.2h0M98.8 197.3h0M109.9 196.8h0M113.9 196.6h0M114.9 196.7h0M116.4 197.5h0M116.5 196.8h0M117.9 197.1h0M120.6 197.4h0M121.1 197.5h0M126.4 197.3h0M126.7 197.2h0M131.2 196.6h0M131.8 196.6h0M134.2 196.8h0M134.5 197.0h0M134.9 196.8h0M135.3 197.3h0M135.7 197.2h0M136.2 197.0h0M136.5 196.6h0M137.6 196.6h0M138.1 197.3h0M138.3 197.2h0M138.6 196.8h0M138.7 196.6h0M139.4 196.7h0M140.0 196.6h0M205.2 197.1h0M206.4 196.6h0M207.6 197.0h0M207.6 196.9h0M210.0 196.8h0M210.5 197.2h0M211.6 197.0h0M214.0 197.0h0M215.0 196.9h0M217.4 196.8h0M218.1 196.6h0M218.8 197.3h0M219.3 196.9h0M259.0 196.8h0M31.4 197.7h0M68.7 198.3h0M69.3 197.9h0M72.6 198.3h0M80.2 197.7h0M81.5 197.6h0M82.4 197.6h0M85.8 198.1h0M90.5 198.0h0M105.4 197.7h0M109.4 198.3h0M114.2 198.3h0M116.8 197.8h0M117.7 197.9h0M118.0 198.3h0M119.9 198.2h0M122.0 198.5h0M124.8 197.5h0M125.0 197.7h0M125.5 197.6h0M125.8 197.6h0M128.3 198.1h0M129.7 197.9h0M129.9 198.4h0M131.3 198.5h0M133.9 197.6h0M134.2 198.5h0M134.6 197.9h0M135.9 198.4h0M137.0 197.5h0M137.2 197.6h0M205.7 197.9h0M206.8 197.7h0M207.2 197.7h0M207.3 198.3h0M208.1 197.7h0M208.9 197.7h0M209.2 197.6h0M209.3 197.7h0M213.2 197.7h0M215.5 198.3h0M222.7 198.4h0M223.5 197.5h0M235.2 198.4h0M259.8 198.3h0M267.7 198.5h0M288.4 198.1h0M69.0 199.4h0M71.6 198.8h0M76.6 199.1h0M77.0 199.1h0M79.5 198.6h0M80.1 198.6h0M91.8 199.3h0M102.3 199.4h0M102.8 199.5h0M103.6 198.8h0M106.6 198.7h0M108.0 199.1h0M112.2 199.3h0M114.9 198.8h0M115.0 199.2h0M117.3 198.9h0M119.1 198.5h0M119.8 199.0h0M125.0 198.8h0M125.1 198.9h0M127.9 199.0h0M129.6 199.3h0M130.3 198.9h0M130.7 198.9h0M131.0 199.2h0M134.5 199.0h0M135.0 199.1h0M136.2 199.0h0M136.4 198.9h0M136.5 199.2h0M137.9 199.2h0M138.7 198.6h0M207.9 198.5h0M208.1 199.1h0M208.4 199.3h0M209.0 198.6h0M209.4 198.6h0M211.0 199.3h0M211.9 199.3h0M213.2 198.8h0M214.0 198.7h0M214.2 198.7h0M217.9 199.0h0M218.0 199.5h0M219.1 198.7h0M219.5 198.7h0M220.7 198.7h0M225.6 198.8h0M226.1 198.5h0M226.1 199.4h0M245.3 199.1h0M279.9 198.6h0M291.8 199.4h0M52.4 199.8h0M67.2 200.0h0M76.5 200.2h0M77.8 199.8h0M78.5 199.7h0M88.7 199.6h0M95.4 199.6h0M98.1 200.4h0M98.7 200.4h0M100.6 199.9h0M101.8 199.7h0M102.3 199.7h0M111.2 199.6h0M112.6 199.6h0M112.7 199.7h0M116.5 200.1h0M120.1 200.4h0M121.2 199.6h0M122.4 200.0h0M123.0 199.8h0M125.4 200.0h0M126.3 199.5h0M126.7 200.0h0M128.3 200.4h0M128.8 199.6h0M131.2 199.8h0M132.1 200.4h0M136.5 200.4h0M136.9 200.1h0M138.6 199.7h0M207.0 199.6h0M208.4 200.0h0M209.2 200.1h0M209.7 199.9h0M210.6 200.1h0M210.9 200.2h0M211.5 200.0h0M212.1 200.1h0M213.0 200.0h0M213.9 199.7h0M214.4 200.1h0M215.3 199.8h0M215.5 200.3h0M215.6 200.2h0M216.6 199.7h0M221.3 199.9h0M221.6 200.3h0M223.9 200.1h0M236.7 199.7h0M238.2 200.4h0M50.7 201.4h0M63.3 200.8h0M74.0 200.6h0M75.4 201.1h0M80.1 200.9h0M96.4 201.4h0M101.7 201.3h0M105.6 201.2h0M106.4 201.1h0M107.0 200.9h0M109.2 201.3h0M109.5 200.8h0M111.5 200.9h0M119.7 201.3h0M119.8 201.1h0M122.1 201.1h0M123.6 200.8h0M125.6 201.1h0M125.9 200.7h0M126.3 200.6h0M127.2 200.6h0M127.8 200.8h0M128.7 200.8h0M128.8 201.2h0M132.4 201.1h0M132.7 201.4h0M133.3 201.2h0M134.4 201.2h0M134.5 200.6h0M135.1 201.1h0M135.1 200.6h0M135.1 200.9h0M135.4 200.8h0M135.8 201.0h0M135.9 200.6h0M136.9 201.1h0M210.4 200.6h0M210.7 201.1h0M211.7 201.3h0M211.9 200.7h0M212.0 201.1h0M212.2 201.3h0M212.6 201.3h0M212.9 200.8h0M213.3 200.6h0M213.6 200.9h0M213.6 200.6h0M214.6 201.4h0M217.1 200.8h0M217.7 201.1h0M218.6 201.4h0M219.6 201.3h0M220.0 201.0h0M220.5 200.6h0M220.8 200.8h0M225.6 200.6h0M226.9 200.9h0M227.9 200.9h0M231.6 200.9h0M233.5 201.1h0M237.5 201.0h0M237.5 200.7h0M238.6 201.1h0M239.9 200.8h0M248.2 200.5h0M248.8 201.2h0M267.4 200.8h0M270.5 200.9h0M35.2 201.8h0M54.4 201.6h0M58.9 201.6h0M63.8 202.3h0M64.4 201.8h0M70.9 201.9h0M71.6 202.3h0M75.8 201.8h0M76.7 201.9h0M80.5 202.0h0M90.2 201.6h0M107.2 202.0h0M114.1 201.6h0M116.6 202.2h0M118.2 202.5h0M119.5 201.7h0M120.6 202.2h0M122.5 201.7h0M122.5 202.5h0M125.5 202.1h0M126.8 202.5h0M130.0 202.5h0M130.0 202.4h0M131.1 201.9h0M131.7 201.6h0M132.0 201.7h0M132.2 202.2h0M132.8 201.8h0M133.1 201.9h0M133.4 202.0h0M133.9 201.5h0M135.1 202.3h0M135.4 202.0h0M135.5 201.7h0M135.5 202.2h0M135.9 201.7h0M136.2 202.4h0M136.2 202.5h0M136.5 201.5h0M136.7 201.6h0M137.7 202.1h0M137.7 201.8h0M137.7 201.8h0M211.0 202.0h0M212.3 201.7h0M212.4 201.9h0M215.9 201.5h0M218.4 202.1h0M218.5 201.7h0M219.1 202.4h0M219.2 201.9h0M219.5 201.9h0M221.0 202.2h0M221.4 201.7h0M222.2 202.3h0M222.7 202.0h0M223.4 202.3h0M223.6 201.9h0M224.1 202.1h0M224.8 201.9h0M227.5 202.4h0M230.4 202.3h0M235.2 202.5h0M238.9 202.4h0M244.6 202.0h0M299.0 202.1h0M314.3 202.4h0M50.6 203.2h0M60.7 202.5h0M61.4 203.1h0M74.5 203.2h0M79.7 203.4h0M80.4 203.2h0M81.2 202.7h0M85.0 202.7h0M85.6 203.5h0M88.2 203.0h0M89.7 203.1h0M92.8 203.1h0M103.9 203.2h0M105.1 202.5h0M106.9 202.6h0M107.9 202.8h0M109.9 202.6h0M112.0 202.7h0M113.6 203.2h0M114.5 202.6h0M117.8 202.9h0M121.2 203.1h0M123.9 203.3h0M124.0 202.5h0M126.2 203.0h0M129.1 202.6h0M129.2 203.4h0M129.6 203.3h0M129.6 202.9h0M131.0 203.1h0M131.5 203.4h0M132.6 203.3h0M132.9 202.7h0M134.9 203.1h0M134.9 203.3h0M135.2 202.9h0M135.3 202.8h0M135.3 203.1h0M135.4 203.3h0M135.5 202.6h0M211.4 202.9h0M212.5 202.7h0M212.7 203.0h0M212.8 203.0h0M213.2 202.7h0M213.5 203.1h0M213.9 202.6h0M214.7 202.6h0M215.4 202.6h0M215.5 203.2h0M215.5 203.3h0M215.9 203.1h0M215.9 202.6h0M216.1 202.5h0M219.4 203.0h0M220.2 202.7h0M225.9 203.3h0M227.6 202.8h0M232.5 203.2h0M238.7 203.1h0M243.2 202.7h0M243.5 203.1h0M244.0 202.7h0M247.7 203.0h0M252.2 202.6h0M291.8 202.8h0M40.1 203.8h0M64.9 203.7h0M66.7 204.2h0M74.7 204.2h0M74.7 204.1h0M88.8 203.7h0M89.0 204.1h0M90.5 204.2h0M91.4 203.6h0M91.6 204.0h0M93.4 204.1h0M95.4 204.2h0M96.8 204.0h0M98.9 203.6h0M101.3 203.9h0M102.2 203.9h0M103.5 203.8h0M104.2 204.2h0M104.3 204.4h0M105.5 204.1h0M110.9 203.8h0M111.9 204.1h0M114.6 204.1h0M116.1 204.0h0M116.2 204.1h0M119.5 204.3h0M121.9 204.0h0M123.4 203.8h0M123.5 204.1h0M125.5 203.7h0M125.8 204.1h0M127.6 204.4h0M127.6 204.3h0M129.9 204.0h0M133.5 203.7h0M133.9 204.1h0M134.2 204.4h0M134.8 204.1h0M136.1 204.0h0M136.4 203.5h0M214.4 204.0h0M214.7 204.2h0M215.2 204.4h0M215.4 203.6h0M216.4 203.8h0M216.6 203.9h0M217.3 203.7h0M217.9 203.8h0M218.0 203.6h0M218.2 204.3h0M218.4 203.9h0M218.9 203.7h0M220.0 204.0h0M220.3 203.5h0M221.9 204.0h0M222.6 204.3h0M223.2 204.2h0M223.6 204.2h0M225.1 204.5h0M226.3 203.8h0M226.7 203.5h0M229.7 204.1h0M231.1 203.7h0M236.8 204.1h0M244.0 203.6h0M249.9 203.7h0M252.2 204.0h0M317.3 204.0h0M31.7 205.5h0M38.7 205.0h0M48.6 205.1h0M50.7 205.4h0M56.2 205.4h0M56.3 205.4h0M58.7 205.0h0M60.3 205.2h0M60.7 204.9h0M72.5 205.4h0M73.2 205.5h0M76.8 205.0h0M77.2 205.1h0M88.5 205.0h0M104.6 204.8h0M108.8 204.7h0M111.3 204.9h0M112.2 204.9h0M113.8 204.9h0M117.6 205.1h0M118.8 204.7h0M122.9 205.4h0M123.2 204.8h0M126.5 204.9h0M126.5 205.4h0M127.0 204.9h0M128.4 204.7h0M129.0 204.9h0M129.3 204.8h0M130.3 205.4h0M131.0 204.8h0M132.0 204.5h0M133.9 205.3h0M135.0 205.3h0M135.5 204.8h0M135.6 204.7h0M135.6 204.9h0M136.4 205.3h0M136.4 205.4h0M136.5 205.0h0M136.7 204.8h0M214.4 204.8h0M215.6 204.6h0M216.4 204.6h0M217.3 204.6h0M217.7 205.1h0M218.9 205.4h0M219.6 205.3h0M220.0 204.9h0M222.4 204.6h0M224.8 204.9h0M229.9 205.2h0M243.7 205.3h0M244.8 205.1h0M246.7 204.8h0M250.7 205.0h0M250.9 204.8h0M251.0 205.1h0M257.6 205.2h0M266.8 204.7h0M285.7 205.3h0M46.1 206.3h0M50.9 206.0h0M53.0 206.1h0M61.4 205.9h0M62.5 206.3h0M64.3 205.8h0M77.5 205.9h0M78.1 205.7h0M85.7 206.3h0M88.9 206.2h0M91.8 206.5h0M92.3 205.6h0M99.6 206.1h0M103.4 205.6h0M105.9 205.6h0M107.7 205.8h0M109.0 205.9h0M113.7 205.6h0M115.8 206.2h0M116.2 205.8h0M119.6 205.7h0M122.8 206.2h0M124.0 206.5h0M125.4 205.6h0M126.0 205.5h0M126.2 206.4h0M127.2 205.6h0M127.5 206.0h0M128.6 206.0h0M129.0 205.9h0M130.5 206.1h0M130.8 206.0h0M132.2 205.9h0M132.5 206.4h0M133.9 206.3h0M134.9 206.4h0M135.2 206.3h0M135.3 206.0h0M135.7 205.6h0M136.0 206.1h0M216.0 206.1h0M216.6 206.2h0M217.7 205.7h0M218.6 205.7h0M218.9 206.4h0M220.8 206.5h0M220.8 205.8h0M221.1 206.2h0M222.6 205.9h0M223.5 205.5h0M224.2 205.6h0M224.6 206.2h0M226.0 205.6h0M227.7 205.7h0M228.7 206.2h0M235.7 206.3h0M238.9 205.8h0M239.7 206.0h0M240.0 206.1h0M245.6 206.2h0M260.1 205.7h0M267.6 205.6h0M274.9 206.4h0M313.0 205.5h0M46.0 206.8h0M49.3 207.5h0M64.9 206.7h0M65.7 206.9h0M67.6 206.9h0M77.4 207.2h0M81.6 207.1h0M83.4 207.1h0M85.5 207.1h0M89.9 207.4h0M93.0 207.0h0M96.9 207.3h0M99.2 207.2h0M104.8 207.2h0M105.9 207.1h0M117.8 207.3h0M118.1 206.6h0M119.8 206.8h0M121.3 207.4h0M121.8 206.8h0M122.0 207.2h0M123.5 206.9h0M125.7 207.2h0M126.2 206.6h0M126.3 206.9h0M128.2 207.5h0M129.1 206.7h0M129.8 206.5h0M131.3 207.2h0M131.7 207.1h0M132.7 206.5h0M133.4 207.3h0M133.5 206.9h0M134.0 206.9h0M134.4 206.5h0M134.9 206.6h0M135.7 206.6h0M216.7 206.5h0M217.2 206.7h0M217.4 206.9h0M217.4 207.0h0M218.2 207.4h0M218.4 207.1h0M219.1 206.7h0M219.1 207.4h0M220.9 206.7h0M221.2 206.8h0M221.6 206.5h0M221.8 207.3h0M222.8 207.0h0M223.1 207.4h0M223.1 207.1h0M223.7 206.6h0M224.0 207.1h0M224.4 206.8h0M226.3 206.9h0M226.8 207.2h0M227.3 207.0h0M228.4 207.0h0M228.4 206.7h0M230.4 206.6h0M232.1 206.8h0M233.8 207.2h0M237.2 207.2h0M240.4 206.7h0M241.7 207.3h0M253.1 207.2h0M254.5 207.2h0M36.6 207.7h0M43.8 208.3h0M46.6 208.4h0M48.4 208.5h0M50.2 207.5h0M55.6 207.8h0M63.2 207.9h0M66.6 208.3h0M77.5 208.1h0M79.0 208.2h0M89.1 207.6h0M91.0 208.3h0M92.2 207.8h0M92.6 207.7h0M94.8 207.7h0M95.6 207.6h0M96.9 208.4h0M97.7 208.3h0M101.7 207.7h0M102.0 208.0h0M102.8 207.8h0M103.3 208.3h0M104.0 208.0h0M107.1 208.3h0M111.2 207.6h0M112.1 207.6h0M112.9 207.9h0M113.6 208.4h0M114.5 208.4h0M116.2 207.9h0M118.6 208.4h0M119.1 207.7h0M119.5 208.4h0M121.8 207.5h0M124.1 208.4h0M125.1 207.5h0M125.6 208.4h0M127.1 207.6h0M127.5 208.0h0M128.9 208.5h0M130.3 208.0h0M130.3 208.3h0M130.4 207.7h0M130.5 208.0h0M130.6 208.4h0M130.7 207.9h0M131.4 207.9h0M131.7 208.1h0M131.8 208.2h0M132.4 208.3h0M133.2 208.3h0M133.4 208.3h0M134.7 207.8h0M134.7 208.2h0M134.9 208.2h0M135.4 208.3h0M135.7 208.4h0M135.7 208.2h0M135.8 208.2h0M218.2 207.9h0M219.0 208.1h0M219.4 207.6h0M219.5 208.0h0M220.0 207.9h0M220.7 208.2h0M220.7 208.4h0M220.9 207.9h0M221.8 207.9h0M222.9 207.6h0M223.1 207.7h0M223.2 207.8h0M223.3 208.2h0M223.3 208.1h0M224.3 207.5h0M226.4 207.7h0M226.9 208.2h0M230.3 207.6h0M234.1 207.5h0M238.6 208.4h0M240.2 208.0h0M255.3 208.1h0M261.1 208.5h0M33.7 209.1h0M42.8 208.6h0M45.4 209.4h0M46.9 208.8h0M49.6 208.6h0M49.9 209.1h0M53.9 209.5h0M54.8 209.3h0M55.2 209.4h0M69.9 209.0h0M70.3 209.0h0M80.8 209.4h0M83.2 209.0h0M84.1 208.6h0M85.1 209.3h0M89.9 208.6h0M91.9 209.1h0M94.5 209.3h0M97.7 209.4h0M103.1 208.8h0M105.0 208.9h0M108.8 208.6h0M108.9 209.4h0M109.9 209.2h0M110.6 209.1h0M115.2 209.0h0M115.9 209.1h0M120.7 208.9h0M121.3 209.3h0M122.8 208.5h0M123.2 209.2h0M124.7 209.5h0M125.1 208.9h0M125.5 209.2h0M125.8 208.8h0M126.8 209.1h0M127.5 208.7h0M127.6 209.0h0M128.6 209.3h0M129.5 209.2h0M130.0 208.5h0M134.2 209.2h0M134.3 209.4h0M134.4 209.4h0M134.6 208.7h0M134.9 209.4h0M134.9 209.1h0M135.0 208.9h0M220.0 208.9h0M220.3 208.8h0M221.0 208.6h0M222.0 208.6h0M223.5 208.9h0M224.6 208.6h0M226.1 208.7h0M227.3 208.7h0M227.9 209.2h0M229.2 209.4h0M229.6 208.9h0M229.9 209.2h0M230.8 209.3h0M232.3 209.2h0M233.3 208.5h0M238.2 209.5h0M238.7 208.7h0M239.1 209.3h0M239.9 209.1h0M255.5 209.2h0M257.7 208.6h0M272.2 208.8h0M286.5 209.0h0M304.2 209.0h0M29.1 210.5h0M43.2 209.9h0M50.0 209.9h0M53.1 210.4h0M81.2 209.8h0M82.6 209.6h0M96.3 209.9h0M97.7 209.8h0M102.3 209.9h0M102.4 210.2h0M102.4 210.0h0M103.1 210.1h0M104.6 209.6h0M104.8 209.5h0M105.2 210.3h0M105.5 209.7h0M105.5 209.6h0M115.8 210.3h0M116.9 210.1h0M117.1 210.2h0M117.3 210.3h0M120.3 209.7h0M121.4 209.6h0M122.6 210.4h0M123.9 210.4h0M126.9 209.6h0M127.3 210.1h0M128.0 210.3h0M128.1 210.2h0M128.4 210.1h0M128.9 209.8h0M129.2 209.7h0M129.5 210.4h0M129.6 209.9h0M129.8 210.0h0M130.8 209.5h0M131.2 210.4h0M132.0 210.1h0M133.4 210.5h0M134.3 210.0h0M134.3 209.7h0M134.6 209.6h0M134.6 210.4h0M134.7 209.6h0M221.5 210.0h0M222.0 210.0h0M222.2 209.9h0M222.4 210.4h0M223.2 209.9h0M223.3 210.5h0M223.5 210.3h0M223.5 209.9h0M223.5 210.1h0M223.7 210.3h0M223.7 210.4h0M224.8 210.3h0M226.0 210.0h0M227.7 209.8h0M227.8 210.0h0M228.1 210.0h0M228.4 210.1h0M228.4 210.5h0M228.8 209.7h0M231.4 210.3h0M232.3 210.3h0M235.2 209.8h0M237.4 210.1h0M247.3 210.2h0M253.7 210.2h0M43.1 210.9h0M45.8 211.1h0M50.3 211.0h0M65.3 210.6h0M66.0 211.0h0M72.8 211.4h0M80.4 210.6h0M82.4 211.0h0M84.8 210.8h0M85.0 211.2h0M86.7 211.5h0M89.7 210.6h0M91.0 210.8h0M93.7 210.7h0M95.5 210.6h0M96.5 211.2h0M98.6 211.1h0M99.6 210.8h0M101.4 211.2h0M103.2 211.1h0M103.7 211.3h0M108.1 210.8h0M108.6 210.7h0M108.9 211.4h0M110.7 210.6h0M112.1 210.8h0M113.3 210.8h0M114.6 211.1h0M116.1 211.0h0M117.4 211.5h0M120.4 211.2h0M122.9 210.5h0M125.0 211.3h0M125.2 210.8h0M126.0 210.8h0M126.4 210.9h0M126.6 211.5h0M127.0 210.8h0M127.7 210.5h0M127.8 210.8h0M128.8 210.9h0M128.9 210.9h0M128.9 211.0h0M129.0 210.9h0M129.1 210.9h0M131.0 211.3h0M131.5 210.6h0M132.1 211.2h0M132.1 211.2h0M132.3 211.3h0M132.6 210.6h0M132.8 211.0h0M133.1 211.1h0M133.8 210.6h0M134.2 211.3h0M134.4 210.7h0M134.9 210.9h0M134.9 211.1h0M222.4 210.9h0M222.8 210.7h0M223.0 210.6h0M223.0 210.7h0M223.8 211.0h0M225.3 211.0h0M226.1 210.7h0M226.2 210.5h0M226.5 210.9h0M226.7 211.0h0M227.0 211.4h0M227.7 210.9h0M228.0 211.2h0M228.8 211.4h0M229.7 210.9h0M229.9 211.1h0M232.7 211.3h0M234.9 210.5h0M235.2 210.7h0M238.2 211.2h0M242.4 211.5h0M246.8 211.4h0M256.5 211.4h0M35.1 211.9h0M40.0 211.6h0M44.0 212.1h0M52.3 212.5h0M53.5 211.9h0M53.8 211.6h0M55.4 211.7h0M68.8 212.1h0M70.6 211.9h0M72.2 212.0h0M75.3 211.9h0M75.9 211.8h0M78.0 211.7h0M78.7 211.6h0M91.0 212.0h0M93.2 212.2h0M98.7 212.3h0M101.6 212.4h0M105.7 212.2h0M110.1 211.8h0M111.7 212.1h0M112.0 211.6h0M112.0 212.0h0M112.1 212.4h0M116.1 211.8h0M116.4 212.0h0M117.8 211.5h0M118.0 212.4h0M119.6 212.4h0M120.3 211.7h0M120.5 211.5h0M120.7 212.4h0M121.5 212.3h0M122.0 212.1h0M124.4 212.4h0M125.3 212.3h0M125.9 212.3h0M126.0 212.0h0M126.0 211.6h0M127.3 212.0h0M128.2 212.2h0M129.7 212.0h0M129.8 212.5h0M130.6 211.9h0M130.8 212.1h0M130.9 211.6h0M131.4 211.6h0M132.1 212.4h0M132.7 212.5h0M132.8 211.6h0M133.4 212.5h0M134.9 211.8h0M225.1 212.1h0M225.6 212.3h0M226.0 211.7h0M227.5 211.5h0M227.9 212.0h0M228.0 211.7h0M228.4 212.2h0M230.4 212.2h0M234.0 212.2h0M234.9 212.4h0M236.5 212.4h0M237.6 212.5h0M239.3 212.1h0M240.0 211.6h0M241.5 212.0h0M246.1 211.9h0M252.4 212.2h0M271.3 211.9h0M274.1 212.3h0M279.7 212.4h0M37.5 212.8h0M37.7 212.9h0M43.2 213.2h0M47.9 213.0h0M59.1 213.3h0M60.4 213.1h0M66.4 213.0h0M66.9 213.1h0M76.3 213.0h0M81.6 212.5h0M82.3 213.2h0M88.8 213.1h0M89.2 213.1h0M91.0 213.4h0M92.2 212.6h0M93.0 212.6h0M93.5 213.2h0M94.1 212.9h0M94.3 213.1h0M99.5 213.2h0M101.2 213.3h0M103.1 212.7h0M105.1 213.5h0M105.5 213.5h0M106.4 213.1h0M107.8 212.8h0M108.4 213.0h0M109.6 213.1h0M111.5 213.4h0M113.0 213.2h0M113.3 212.7h0M115.6 213.4h0M121.1 212.8h0M121.2 213.3h0M121.6 212.6h0M122.8 212.7h0M123.0 212.8h0M123.4 212.6h0M125.5 213.2h0M126.5 213.0h0M128.1 213.3h0M128.3 213.4h0M128.4 212.8h0M128.9 213.4h0M129.0 213.5h0M130.4 212.5h0M130.9 212.7h0M131.0 212.9h0M131.8 212.5h0M132.3 213.2h0M132.9 212.8h0M133.1 212.8h0M133.5 212.8h0M133.6 213.1h0M133.9 213.2h0M133.9 212.8h0M225.1 212.7h0M225.2 212.5h0M225.8 212.8h0M225.9 212.7h0M226.9 213.4h0M227.1 213.1h0M228.6 213.0h0M228.9 212.9h0M230.8 212.7h0M231.7 213.5h0M231.8 213.3h0M232.3 212.5h0M232.5 213.2h0M233.2 213.5h0M233.3 212.8h0M234.4 213.2h0M235.1 212.6h0M236.3 213.3h0M238.2 213.3h0M239.9 212.7h0M250.1 213.2h0M264.0 212.7h0M306.5 212.8h0M30.0 214.4h0M56.6 213.9h0M64.3 214.2h0M64.8 214.2h0M64.9 214.1h0M68.2 213.9h0M71.6 213.9h0M73.3 214.5h0M77.2 214.3h0M79.9 213.6h0M83.5 214.4h0M84.0 214.4h0M86.1 214.4h0M86.7 213.9h0M92.5 214.3h0M93.1 214.4h0M93.3 213.8h0M96.4 214.3h0M96.9 214.3h0M97.4 214.1h0M98.9 214.5h0M99.9 214.2h0M103.8 214.4h0M104.7 214.1h0M111.0 213.5h0M112.3 214.1h0M112.9 214.5h0M113.2 214.5h0M115.5 213.7h0M117.7 214.0h0M118.8 214.3h0M119.0 213.8h0M120.3 214.2h0M120.4 213.6h0M121.5 214.4h0M122.5 214.3h0M123.1 213.5h0M123.6 213.9h0M123.7 213.9h0M124.5 214.0h0M125.4 214.4h0M126.3 214.2h0M127.3 214.4h0M127.4 214.3h0M127.4 213.8h0M127.6 213.9h0M127.7 213.8h0M128.3 213.5h0M128.4 214.4h0M128.8 213.8h0M129.0 214.0h0M129.4 214.0h0M130.3 213.8h0M130.8 214.3h0M131.3 213.6h0M132.3 214.3h0M132.8 214.2h0M133.9 213.8h0M134.0 214.0h0M226.6 213.6h0M227.1 213.6h0M227.6 213.8h0M227.9 213.8h0M228.5 214.0h0M228.9 213.7h0M229.2 214.5h0M229.2 214.1h0M229.7 214.0h0M229.8 214.4h0M231.9 214.1h0M232.1 213.8h0M233.8 214.1h0M234.2 213.6h0M234.8 214.1h0M237.3 214.3h0M254.7 213.9h0M262.8 214.2h0M270.6 214.1h0M284.7 213.6h0M323.8 214.0h0M34.1 215.1h0M51.0 215.3h0M61.3 215.0h0M62.6 215.0h0M64.7 215.4h0M66.1 215.2h0M74.2 215.4h0M78.5 214.9h0M81.1 214.8h0M81.8 215.3h0M83.4 215.0h0M85.5 214.5h0M86.8 214.8h0M91.3 215.5h0M92.7 215.4h0M94.8 214.5h0M96.7 214.6h0M100.0 214.7h0M101.2 214.9h0M101.9 215.2h0M102.3 215.2h0M103.7 215.4h0M107.4 214.7h0M108.1 215.5h0M108.3 215.1h0M112.7 215.2h0M113.4 215.0h0M114.2 215.0h0M114.9 215.3h0M115.0 215.5h0M116.6 215.3h0M117.0 214.9h0M117.5 215.2h0M117.9 215.0h0M121.2 214.5h0M123.3 215.3h0M123.8 214.8h0M123.9 214.6h0M124.8 214.8h0M124.8 214.5h0M125.2 215.1h0M126.1 215.3h0M126.2 215.3h0M126.5 215.0h0M127.3 215.5h0M127.9 214.8h0M128.9 214.7h0M129.3 215.0h0M131.1 214.8h0M131.2 214.9h0M131.6 214.8h0M131.7 215.5h0M132.6 214.8h0M133.0 214.6h0M133.3 214.9h0M228.8 214.5h0M229.2 214.9h0M229.2 214.7h0M229.3 214.8h0M229.4 214.8h0M229.5 215.5h0M229.9 215.1h0M230.3 215.3h0M230.8 215.5h0M230.9 214.7h0M231.1 214.5h0M233.2 215.4h0M233.5 214.9h0M233.5 214.8h0M234.1 214.6h0M234.2 215.3h0M234.3 215.0h0M235.5 214.7h0M237.1 214.6h0M237.8 214.6h0M238.0 214.7h0M238.0 215.4h0M245.6 215.2h0M246.5 214.9h0M255.1 215.1h0M260.8 214.7h0M262.6 214.5h0M272.2 214.8h0M273.0 215.4h0M279.4 214.9h0M302.0 215.0h0M306.2 215.2h0M321.7 214.6h0M328.1 214.7h0M332.3 215.0h0M90.7 215.6h0M92.7 215.5h0M102.3 215.6h0M103.3 215.5h0M104.4 215.6h0M107.7 215.5h0M116.0 215.5h0M119.7 215.6h0M126.8 215.6h0M129.2 215.5h0M231.8 215.5h0M234.7 215.5h0M244.4 215.5h0" fill="none" stroke="#1f77b4" stroke-width="1.32" stroke-linecap="round"/>
</g>
<polygon points="57.20,49.81 96.48,49.81 96.48,65.22 57.20,65.22" fill="none" stroke="#000" stroke-width="1.25" stroke-linejoin="miter"/>
<polygon points="57.20,77.55 94.52,77.55 94.52,108.37 57.20,108.37" fill="none" stroke="#000" stroke-width="1.25" stroke-linejoin="miter"/>
<polygon points="96.48,102.21 107.28,102.21 110.72,121.93 96.48,121.93" fill="none" stroke="#000" stroke-width="1.25" stroke-linejoin="miter"/>
<polygon points="130.85,31.01 141.90,31.01 120.93,89.88 113.96,89.88" fill="none" stroke="#000" stroke-width="1.25" stroke-linejoin="miter"/>
<rect x="27.65" y="0.5" width="324.25" height="215.7" fill="none" stroke="#262626" stroke-width="1.0"/>
<line x1="24.75" x2="27.65" y1="15.91" y2="15.91" stroke="#262626" stroke-width="0.8"/>
<text transform="translate(22.25 18.71) scale(1.04 1)" text-anchor="end" font-family="'Liberation Serif', serif" font-size="7" fill="#1a1a1a" text-rendering="geometricPrecision" stroke="#1a1a1a" stroke-width="0.12">14</text>
<line x1="24.75" x2="27.65" y1="46.73" y2="46.73" stroke="#262626" stroke-width="0.8"/>
<text transform="translate(22.25 49.53) scale(1.04 1)" text-anchor="end" font-family="'Liberation Serif', serif" font-size="7" fill="#1a1a1a" text-rendering="geometricPrecision" stroke="#1a1a1a" stroke-width="0.12">16</text>
<line x1="24.75" x2="27.65" y1="77.55" y2="77.55" stroke="#262626" stroke-width="0.8"/>
<text transform="translate(22.25 80.35) scale(1.04 1)" text-anchor="end" font-family="'Liberation Serif', serif" font-size="7" fill="#1a1a1a" text-rendering="geometricPrecision" stroke="#1a1a1a" stroke-width="0.12">18</text>
<line x1="24.75" x2="27.65" y1="108.37" y2="108.37" stroke="#262626" stroke-width="0.8"/>
<text transform="translate(22.25 111.17) scale(1.04 1)" text-anchor="end" font-family="'Liberation Serif', serif" font-size="7" fill="#1a1a1a" text-rendering="geometricPrecision" stroke="#1a1a1a" stroke-width="0.12">20</text>
<line x1="24.75" x2="27.65" y1="139.19" y2="139.19" stroke="#262626" stroke-width="0.8"/>
<text transform="translate(22.25 141.99) scale(1.04 1)" text-anchor="end" font-family="'Liberation Serif', serif" font-size="7" fill="#1a1a1a" text-rendering="geometricPrecision" stroke="#1a1a1a" stroke-width="0.12">22</text>
<line x1="24.75" x2="27.65" y1="170.01" y2="170.01" stroke="#262626" stroke-width="0.8"/>
<text transform="translate(22.25 172.81) scale(1.04 1)" text-anchor="end" font-family="'Liberation Serif', serif" font-size="7" fill="#1a1a1a" text-rendering="geometricPrecision" stroke="#1a1a1a" stroke-width="0.12">24</text>
<line x1="24.75" x2="27.65" y1="200.83" y2="200.83" stroke="#262626" stroke-width="0.8"/>
<text transform="translate(22.25 203.63) scale(1.04 1)" text-anchor="end" font-family="'Liberation Serif', serif" font-size="7" fill="#1a1a1a" text-rendering="geometricPrecision" stroke="#1a1a1a" stroke-width="0.12">26</text>
<line x1="57.20" x2="57.20" y1="216.20" y2="219.10" stroke="#262626" stroke-width="0.8"/>
<text transform="translate(57.20 226.80) scale(1.04 1)" text-anchor="middle" font-family="'Liberation Serif', serif" font-size="7" fill="#1a1a1a" text-rendering="geometricPrecision" stroke="#1a1a1a" stroke-width="0.12">0.0</text>
<line x1="106.30" x2="106.30" y1="216.20" y2="219.10" stroke="#262626" stroke-width="0.8"/>
<text transform="translate(106.30 226.80) scale(1.04 1)" text-anchor="middle" font-family="'Liberation Serif', serif" font-size="7" fill="#1a1a1a" text-rendering="geometricPrecision" stroke="#1a1a1a" stroke-width="0.12">0.5</text>
<line x1="155.40" x2="155.40" y1="216.20" y2="219.10" stroke="#262626" stroke-width="0.8"/>
<text transform="translate(155.40 226.80) scale(1.04 1)" text-anchor="middle" font-family="'Liberation Serif', serif" font-size="7" fill="#1a1a1a" text-rendering="geometricPrecision" stroke="#1a1a1a" stroke-width="0.12">1.0</text>
<line x1="204.50" x2="204.50" y1="216.20" y2="219.10" stroke="#262626" stroke-width="0.8"/>
<text transform="translate(204.50 226.80) scale(1.04 1)" text-anchor="middle" font-family="'Liberation Serif', serif" font-size="7" fill="#1a1a1a" text-rendering="geometricPrecision" stroke="#1a1a1a" stroke-width="0.12">1.5</text>
<line x1="253.60" x2="253.60" y1="216.20" y2="219.10" stroke="#262626" stroke-width="0.8"/>
<text transform="translate(253.60 226.80) scale(1.04 1)" text-anchor="middle" font-family="'Liberation Serif', serif" font-size="7" fill="#1a1a1a" text-rendering="geometricPrecision" stroke="#1a1a1a" stroke-width="0.12">2.0</text>
<line x1="302.70" x2="302.70" y1="216.20" y2="219.10" stroke="#262626" stroke-width="0.8"/>
<text transform="translate(302.70 226.80) scale(1.04 1)" text-anchor="middle" font-family="'Liberation Serif', serif" font-size="7" fill="#1a1a1a" text-rendering="geometricPrecision" stroke="#1a1a1a" stroke-width="0.12">2.5</text>
<line x1="351.80" x2="351.80" y1="216.20" y2="219.10" stroke="#262626" stroke-width="0.8"/>
<text transform="translate(351.80 226.80) scale(1.04 1)" text-anchor="middle" font-family="'Liberation Serif', serif" font-size="7" fill="#1a1a1a" text-rendering="geometricPrecision" stroke="#1a1a1a" stroke-width="0.12">3.0</text>
<text transform="translate(189.77 240.2) scale(0.93 1)" text-anchor="middle" font-family="'Liberation Sans', sans-serif" font-size="11.4" fill="#111">F606-F814 [mag]</text>
<text transform="translate(10.4 108.35) rotate(-90) scale(0.93 1)" text-anchor="middle" font-family="'Liberation Sans', sans-serif" font-size="11.4" fill="#111">F606 [mag]</text>
<path d="M58.00 474.70V473.90H91.16V473.70H107.73V473.50H124.31V473.10H140.89V472.70H151.94V472.30H162.99V471.30H179.57V469.50H185.10V468.20H201.68V466.50H207.20V464.70H212.73V461.60H218.25V456.70H223.78V451.80H229.31V446.90H234.83V444.80H240.36V442.00H245.88V437.00H251.41V427.50H256.94V411.00H262.46V401.90H267.99V394.60H273.51V385.40H279.04V371.10H284.57V361.00H290.09V348.00H295.62V329.00H301.14V319.90H306.67V303.40H312.20V292.00H317.72V285.20H323.25V274.00H328.77V269.60H334.30V474.70" fill="none" stroke="#1f77b4" stroke-width="1.05" stroke-linejoin="miter"/>
<path d="M167.50 474.70V468.10H170.72V461.60H212.55V455.30H228.64V442.20H238.30V435.50H244.73V429.00H251.17V415.50H254.39V408.40H257.60V395.60H260.82V382.10H267.26V368.70H270.48V362.00H276.91V342.90H280.13V322.30H289.78V316.00H293.00V309.50H305.87V302.00H309.09V296.40H312.31V283.00H315.53V276.50H321.96V273.00H325.18V269.60H328.40V474.70" fill="none" stroke="#ff7f0e" stroke-width="1.05" stroke-linejoin="miter"/>
<path d="M132.40 474.70V470.30H164.50V465.90H184.00V461.50H195.90V457.40H207.80V452.50H219.60V448.30H227.70V439.20H231.60V434.70H235.50V430.10H239.60V425.60H254.70V421.50H260.30V412.60H263.90V402.80H267.30V391.00H274.80V381.50H278.90V359.00H283.10V345.60H287.60V336.80H295.60V322.30H299.60V314.40H303.50V308.00H307.50V301.30H311.50V282.40H315.50V278.00H319.50V274.00H323.50V271.50H327.50V269.60H331.50V474.70" fill="none" stroke="#2ca02c" stroke-width="1.05" stroke-linejoin="miter"/>
<path d="M42.00 474.70V474.00H71.54V473.80H101.08V473.50H118.80V473.30H130.62V472.90H142.44V472.20H148.34V471.60H154.25V470.90H160.16V470.10H166.07V469.20H171.98V468.20H177.88V467.20H183.79V466.00H189.70V463.90H195.61V462.40H201.52V460.50H207.42V458.50H213.33V455.30H219.24V451.80H225.15V448.70H231.06V444.50H236.96V441.30H242.87V434.30H248.78V427.50H254.69V422.00H260.60V413.00H266.50V404.50H272.41V395.00H278.32V383.50H284.23V371.00H290.14V358.70H296.04V341.50H301.95V322.20H307.86V306.60H313.77V289.70H319.68V277.50H325.58V269.60H337.40V474.70" fill="none" stroke="#ff0000" stroke-width="1.05" stroke-linejoin="miter"/>
<rect x="27.4" y="259.2" width="324.8" height="215.5" fill="none" stroke="#262626" stroke-width="1.0"/>
<line x1="24.50" x2="27.40" y1="474.70" y2="474.70" stroke="#262626" stroke-width="0.8"/>
<text transform="translate(22.20 477.50) scale(1.04 1)" text-anchor="end" font-family="'Liberation Serif', serif" font-size="7" fill="#1a1a1a" text-rendering="geometricPrecision" stroke="#1a1a1a" stroke-width="0.12">0.0</text>
<line x1="24.50" x2="27.40" y1="433.64" y2="433.64" stroke="#262626" stroke-width="0.8"/>
<text transform="translate(22.20 436.44) scale(1.04 1)" text-anchor="end" font-family="'Liberation Serif', serif" font-size="7" fill="#1a1a1a" text-rendering="geometricPrecision" stroke="#1a1a1a" stroke-width="0.12">0.2</text>
<line x1="24.50" x2="27.40" y1="392.58" y2="392.58" stroke="#262626" stroke-width="0.8"/>
<text transform="translate(22.20 395.38) scale(1.04 1)" text-anchor="end" font-family="'Liberation Serif', serif" font-size="7" fill="#1a1a1a" text-rendering="geometricPrecision" stroke="#1a1a1a" stroke-width="0.12">0.4</text>
<line x1="24.50" x2="27.40" y1="351.52" y2="351.52" stroke="#262626" stroke-width="0.8"/>
<text transform="translate(22.20 354.32) scale(1.04 1)" text-anchor="end" font-family="'Liberation Serif', serif" font-size="7" fill="#1a1a1a" text-rendering="geometricPrecision" stroke="#1a1a1a" stroke-width="0.12">0.6</text>
<line x1="24.50" x2="27.40" y1="310.46" y2="310.46" stroke="#262626" stroke-width="0.8"/>
<text transform="translate(22.20 313.26) scale(1.04 1)" text-anchor="end" font-family="'Liberation Serif', serif" font-size="7" fill="#1a1a1a" text-rendering="geometricPrecision" stroke="#1a1a1a" stroke-width="0.12">0.8</text>
<line x1="24.50" x2="27.40" y1="269.40" y2="269.40" stroke="#262626" stroke-width="0.8"/>
<text transform="translate(22.20 272.20) scale(1.04 1)" text-anchor="end" font-family="'Liberation Serif', serif" font-size="7" fill="#1a1a1a" text-rendering="geometricPrecision" stroke="#1a1a1a" stroke-width="0.12">1.0</text>
<line x1="65.10" x2="65.10" y1="474.70" y2="477.60" stroke="#262626" stroke-width="0.8"/>
<text transform="translate(65.10 485.60) scale(1.04 1)" text-anchor="middle" font-family="'Liberation Serif', serif" font-size="7" fill="#1a1a1a" text-rendering="geometricPrecision" stroke="#1a1a1a" stroke-width="0.12">0.50</text>
<line x1="106.00" x2="106.00" y1="474.70" y2="477.60" stroke="#262626" stroke-width="0.8"/>
<text transform="translate(106.00 485.60) scale(1.04 1)" text-anchor="middle" font-family="'Liberation Serif', serif" font-size="7" fill="#1a1a1a" text-rendering="geometricPrecision" stroke="#1a1a1a" stroke-width="0.12">0.75</text>
<line x1="146.90" x2="146.90" y1="474.70" y2="477.60" stroke="#262626" stroke-width="0.8"/>
<text transform="translate(146.90 485.60) scale(1.04 1)" text-anchor="middle" font-family="'Liberation Serif', serif" font-size="7" fill="#1a1a1a" text-rendering="geometricPrecision" stroke="#1a1a1a" stroke-width="0.12">1.00</text>
<line x1="187.80" x2="187.80" y1="474.70" y2="477.60" stroke="#262626" stroke-width="0.8"/>
<text transform="translate(187.80 485.60) scale(1.04 1)" text-anchor="middle" font-family="'Liberation Serif', serif" font-size="7" fill="#1a1a1a" text-rendering="geometricPrecision" stroke="#1a1a1a" stroke-width="0.12">1.25</text>
<line x1="228.70" x2="228.70" y1="474.70" y2="477.60" stroke="#262626" stroke-width="0.8"/>
<text transform="translate(228.70 485.60) scale(1.04 1)" text-anchor="middle" font-family="'Liberation Serif', serif" font-size="7" fill="#1a1a1a" text-rendering="geometricPrecision" stroke="#1a1a1a" stroke-width="0.12">1.50</text>
<line x1="269.60" x2="269.60" y1="474.70" y2="477.60" stroke="#262626" stroke-width="0.8"/>
<text transform="translate(269.60 485.60) scale(1.04 1)" text-anchor="middle" font-family="'Liberation Serif', serif" font-size="7" fill="#1a1a1a" text-rendering="geometricPrecision" stroke="#1a1a1a" stroke-width="0.12">1.75</text>
<line x1="310.50" x2="310.50" y1="474.70" y2="477.60" stroke="#262626" stroke-width="0.8"/>
<text transform="translate(310.50 485.60) scale(1.04 1)" text-anchor="middle" font-family="'Liberation Serif', serif" font-size="7" fill="#1a1a1a" text-rendering="geometricPrecision" stroke="#1a1a1a" stroke-width="0.12">2.00</text>
<line x1="351.40" x2="351.40" y1="474.70" y2="477.60" stroke="#262626" stroke-width="0.8"/>
<text transform="translate(351.40 485.60) scale(1.04 1)" text-anchor="middle" font-family="'Liberation Serif', serif" font-size="7" fill="#1a1a1a" text-rendering="geometricPrecision" stroke="#1a1a1a" stroke-width="0.12">2.25</text>
<text transform="translate(189.80 497.8) scale(0.96 1)" text-anchor="middle" font-family="'Liberation Sans', sans-serif" font-size="11.4" fill="#111">log(r)</text>
<text transform="translate(7.9 367.2) rotate(-90)" text-anchor="middle" font-family="'Liberation Serif', serif" font-size="12" fill="#111">Φ</text>
<rect x="30.9" y="262.1" width="40.7" height="43.3" rx="1.6" fill="#fff" fill-opacity="0.8" stroke="#cfcfcf" stroke-width="0.8"/>
<rect x="33.6" y="265.60" width="15.2" height="6.1" fill="none" stroke="#1f77b4" stroke-width="1"/>
<text transform="translate(54.8 271.40) scale(0.8 1)" font-family="'Liberation Sans', sans-serif" font-size="8.2" fill="#000">RGB</text>
<rect x="33.6" y="275.60" width="15.2" height="6.1" fill="none" stroke="#ff7f0e" stroke-width="1"/>
<text transform="translate(54.8 281.40) scale(0.8 1)" font-family="'Liberation Sans', sans-serif" font-size="8.2" fill="#000">HB</text>
<rect x="33.6" y="285.60" width="15.2" height="6.1" fill="none" stroke="#2ca02c" stroke-width="1"/>
<text transform="translate(54.8 291.40) scale(0.8 1)" font-family="'Liberation Sans', sans-serif" font-size="8.2" fill="#000">BS</text>
<rect x="33.6" y="295.60" width="15.2" height="6.1" fill="none" stroke="#ff0000" stroke-width="1"/>
<text transform="translate(54.8 301.40) scale(0.8 1)" font-family="'Liberation Sans', sans-serif" font-size="8.2" fill="#000">MS</text>
</svg></body></html>
